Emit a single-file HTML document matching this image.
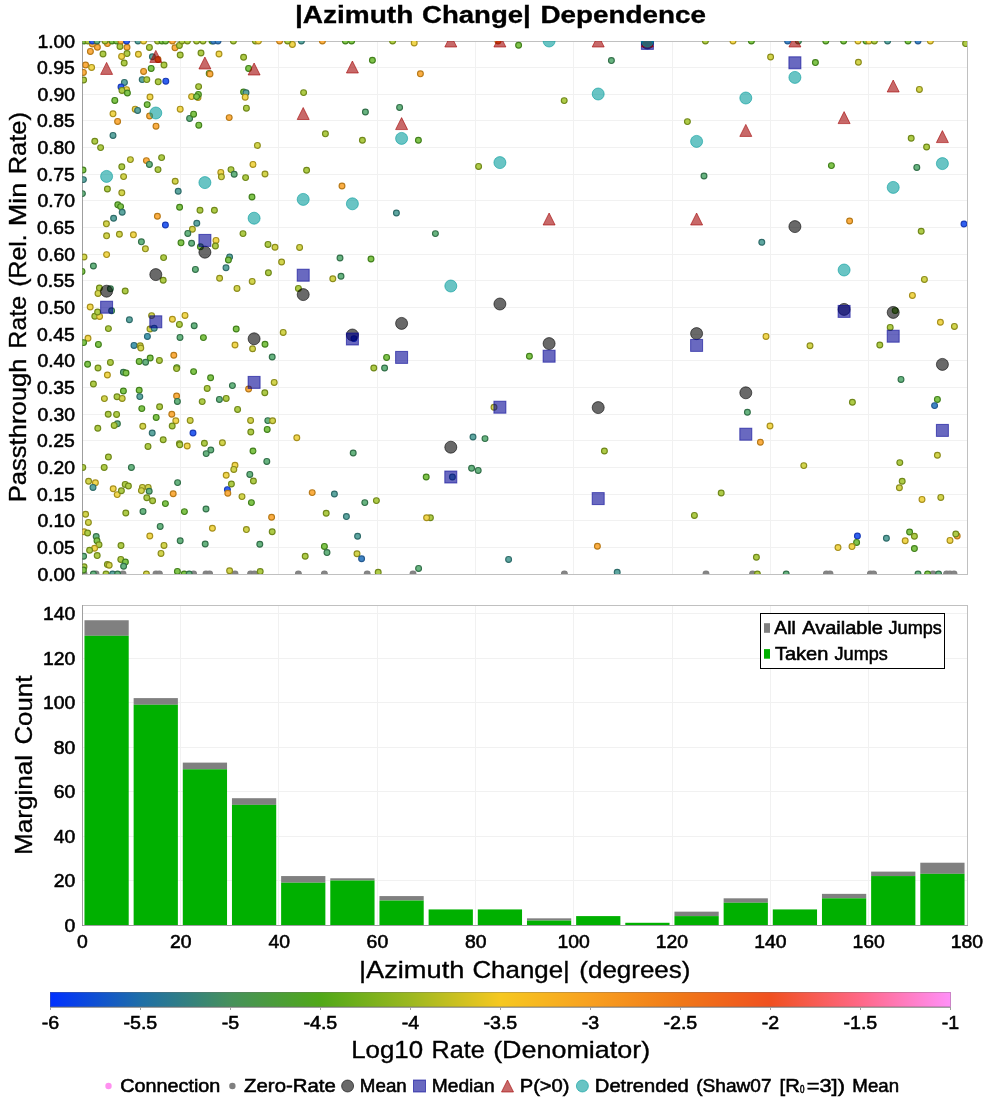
<!DOCTYPE html>
<html><head><meta charset="utf-8"><title>Azimuth Change Dependence</title>
<style>html,body{margin:0;padding:0;background:#fff;}svg{display:block;will-change:transform;}text{font-family:"Liberation Sans", sans-serif;fill:#000;stroke:#000;}</style></head><body>
<svg width="1000" height="1100" viewBox="0 0 1000 1100">
<rect x="0" y="0" width="1000" height="1100" fill="#ffffff"/>
<defs>
<clipPath id="c1"><rect x="82.00" y="41.00" width="885.00" height="533.00"/></clipPath>
<linearGradient id="cpt" x1="0" y1="0" x2="1" y2="0">
<stop offset="0.0000" stop-color="#0030ff"/>
<stop offset="0.1000" stop-color="#1e6ea8"/>
<stop offset="0.2000" stop-color="#46915c"/>
<stop offset="0.3000" stop-color="#50a818"/>
<stop offset="0.4000" stop-color="#9cb820"/>
<stop offset="0.5000" stop-color="#f6c820"/>
<stop offset="0.6000" stop-color="#f8a020"/>
<stop offset="0.7000" stop-color="#f07818"/>
<stop offset="0.8000" stop-color="#f05020"/>
<stop offset="0.9000" stop-color="#ff6888"/>
<stop offset="1.0000" stop-color="#ff90f8"/>
</linearGradient>
</defs>
<rect x="82.00" y="41.00" width="885.00" height="533.00" fill="#fff"/>
<line x1="82.00" y1="547.50" x2="967.00" y2="547.50" stroke="#f1f1f1" stroke-width="1"/>
<line x1="82.00" y1="520.50" x2="967.00" y2="520.50" stroke="#f1f1f1" stroke-width="1"/>
<line x1="82.00" y1="494.50" x2="967.00" y2="494.50" stroke="#f1f1f1" stroke-width="1"/>
<line x1="82.00" y1="467.50" x2="967.00" y2="467.50" stroke="#f1f1f1" stroke-width="1"/>
<line x1="82.00" y1="440.50" x2="967.00" y2="440.50" stroke="#f1f1f1" stroke-width="1"/>
<line x1="82.00" y1="414.50" x2="967.00" y2="414.50" stroke="#f1f1f1" stroke-width="1"/>
<line x1="82.00" y1="387.50" x2="967.00" y2="387.50" stroke="#f1f1f1" stroke-width="1"/>
<line x1="82.00" y1="360.50" x2="967.00" y2="360.50" stroke="#f1f1f1" stroke-width="1"/>
<line x1="82.00" y1="334.50" x2="967.00" y2="334.50" stroke="#f1f1f1" stroke-width="1"/>
<line x1="82.00" y1="307.50" x2="967.00" y2="307.50" stroke="#f1f1f1" stroke-width="1"/>
<line x1="82.00" y1="280.50" x2="967.00" y2="280.50" stroke="#f1f1f1" stroke-width="1"/>
<line x1="82.00" y1="254.50" x2="967.00" y2="254.50" stroke="#f1f1f1" stroke-width="1"/>
<line x1="82.00" y1="227.50" x2="967.00" y2="227.50" stroke="#f1f1f1" stroke-width="1"/>
<line x1="82.00" y1="200.50" x2="967.00" y2="200.50" stroke="#f1f1f1" stroke-width="1"/>
<line x1="82.00" y1="174.50" x2="967.00" y2="174.50" stroke="#f1f1f1" stroke-width="1"/>
<line x1="82.00" y1="147.50" x2="967.00" y2="147.50" stroke="#f1f1f1" stroke-width="1"/>
<line x1="82.00" y1="120.50" x2="967.00" y2="120.50" stroke="#f1f1f1" stroke-width="1"/>
<line x1="82.00" y1="94.50" x2="967.00" y2="94.50" stroke="#f1f1f1" stroke-width="1"/>
<line x1="82.00" y1="67.50" x2="967.00" y2="67.50" stroke="#f1f1f1" stroke-width="1"/>
<line x1="180.50" y1="41.00" x2="180.50" y2="574.00" stroke="#f1f1f1" stroke-width="1"/>
<line x1="278.50" y1="41.00" x2="278.50" y2="574.00" stroke="#f1f1f1" stroke-width="1"/>
<line x1="377.50" y1="41.00" x2="377.50" y2="574.00" stroke="#f1f1f1" stroke-width="1"/>
<line x1="475.50" y1="41.00" x2="475.50" y2="574.00" stroke="#f1f1f1" stroke-width="1"/>
<line x1="573.50" y1="41.00" x2="573.50" y2="574.00" stroke="#f1f1f1" stroke-width="1"/>
<line x1="672.50" y1="41.00" x2="672.50" y2="574.00" stroke="#f1f1f1" stroke-width="1"/>
<line x1="770.50" y1="41.00" x2="770.50" y2="574.00" stroke="#f1f1f1" stroke-width="1"/>
<line x1="868.50" y1="41.00" x2="868.50" y2="574.00" stroke="#f1f1f1" stroke-width="1"/>
<rect x="82.50" y="41.50" width="885.00" height="533.00" fill="none" stroke="#c0c0c0" stroke-width="1"/>
<g clip-path="url(#c1)">
<circle cx="84.0" cy="574.0" r="2.9" fill="#868686" stroke="#808080" stroke-width="1.15"/>
<circle cx="96.0" cy="574.0" r="2.9" fill="#868686" stroke="#808080" stroke-width="1.15"/>
<circle cx="123.0" cy="574.0" r="2.9" fill="#868686" stroke="#808080" stroke-width="1.15"/>
<circle cx="156.0" cy="574.0" r="2.9" fill="#868686" stroke="#808080" stroke-width="1.15"/>
<circle cx="159.4" cy="574.0" r="2.9" fill="#868686" stroke="#808080" stroke-width="1.15"/>
<circle cx="193.6" cy="574.0" r="2.9" fill="#868686" stroke="#808080" stroke-width="1.15"/>
<circle cx="206.0" cy="574.0" r="2.9" fill="#868686" stroke="#808080" stroke-width="1.15"/>
<circle cx="209.6" cy="574.0" r="2.9" fill="#868686" stroke="#808080" stroke-width="1.15"/>
<circle cx="235.0" cy="574.0" r="2.9" fill="#868686" stroke="#808080" stroke-width="1.15"/>
<circle cx="250.6" cy="574.0" r="2.9" fill="#868686" stroke="#808080" stroke-width="1.15"/>
<circle cx="254.4" cy="574.0" r="2.9" fill="#868686" stroke="#808080" stroke-width="1.15"/>
<circle cx="298.4" cy="574.0" r="2.9" fill="#868686" stroke="#808080" stroke-width="1.15"/>
<circle cx="324.4" cy="574.0" r="2.9" fill="#868686" stroke="#808080" stroke-width="1.15"/>
<circle cx="367.2" cy="574.0" r="2.9" fill="#868686" stroke="#808080" stroke-width="1.15"/>
<circle cx="413.0" cy="574.0" r="2.9" fill="#868686" stroke="#808080" stroke-width="1.15"/>
<circle cx="564.4" cy="574.0" r="2.9" fill="#868686" stroke="#808080" stroke-width="1.15"/>
<circle cx="706.0" cy="574.0" r="2.9" fill="#868686" stroke="#808080" stroke-width="1.15"/>
<circle cx="752.6" cy="574.0" r="2.9" fill="#868686" stroke="#808080" stroke-width="1.15"/>
<circle cx="826.4" cy="574.0" r="2.9" fill="#868686" stroke="#808080" stroke-width="1.15"/>
<circle cx="830.0" cy="574.0" r="2.9" fill="#868686" stroke="#808080" stroke-width="1.15"/>
<circle cx="870.4" cy="574.0" r="2.9" fill="#868686" stroke="#808080" stroke-width="1.15"/>
<circle cx="873.6" cy="574.0" r="2.9" fill="#868686" stroke="#808080" stroke-width="1.15"/>
<circle cx="933.0" cy="574.0" r="2.9" fill="#868686" stroke="#808080" stroke-width="1.15"/>
<circle cx="946.6" cy="574.0" r="2.9" fill="#868686" stroke="#808080" stroke-width="1.15"/>
<circle cx="950.0" cy="574.0" r="2.9" fill="#868686" stroke="#808080" stroke-width="1.15"/>
<circle cx="954.0" cy="574.0" r="2.9" fill="#868686" stroke="#808080" stroke-width="1.15"/>
<circle cx="90.4" cy="51.4" r="2.9" fill="#fbae44" stroke="#b87a18" stroke-width="1.15"/>
<circle cx="97.4" cy="47.2" r="2.9" fill="#fbae44" stroke="#b87a18" stroke-width="1.15"/>
<circle cx="92.4" cy="44.0" r="2.9" fill="#fbae44" stroke="#b87a18" stroke-width="1.15"/>
<circle cx="107.4" cy="43.6" r="2.9" fill="#fbae44" stroke="#b87a18" stroke-width="1.15"/>
<circle cx="103.0" cy="54.0" r="2.9" fill="#aecb48" stroke="#70881a" stroke-width="1.15"/>
<circle cx="120.0" cy="46.4" r="2.9" fill="#aecb48" stroke="#70881a" stroke-width="1.15"/>
<circle cx="127.0" cy="47.2" r="2.9" fill="#fbae44" stroke="#b87a18" stroke-width="1.15"/>
<circle cx="127.0" cy="53.6" r="2.9" fill="#aecb48" stroke="#70881a" stroke-width="1.15"/>
<circle cx="121.6" cy="56.4" r="2.9" fill="#f0d650" stroke="#a8901c" stroke-width="1.15"/>
<circle cx="138.4" cy="54.2" r="2.9" fill="#f0d650" stroke="#a8901c" stroke-width="1.15"/>
<circle cx="149.4" cy="47.4" r="2.9" fill="#aecb48" stroke="#70881a" stroke-width="1.15"/>
<circle cx="152.4" cy="56.8" r="2.9" fill="#5ea6a0" stroke="#2f6c6a" stroke-width="1.15"/>
<circle cx="158.0" cy="59.6" r="2.9" fill="#f58424" stroke="#b05a10" stroke-width="1.15"/>
<circle cx="164.0" cy="65.0" r="2.9" fill="#aecb48" stroke="#70881a" stroke-width="1.15"/>
<circle cx="175.0" cy="47.8" r="2.9" fill="#fbae44" stroke="#b87a18" stroke-width="1.15"/>
<circle cx="179.4" cy="45.4" r="2.9" fill="#aecb48" stroke="#70881a" stroke-width="1.15"/>
<circle cx="180.2" cy="55.0" r="2.9" fill="#aecb48" stroke="#70881a" stroke-width="1.15"/>
<circle cx="201.0" cy="53.0" r="2.9" fill="#aecb48" stroke="#70881a" stroke-width="1.15"/>
<circle cx="219.0" cy="54.0" r="2.9" fill="#f0d650" stroke="#a8901c" stroke-width="1.15"/>
<circle cx="243.6" cy="57.2" r="2.9" fill="#aecb48" stroke="#70881a" stroke-width="1.15"/>
<circle cx="85.6" cy="65.0" r="2.9" fill="#fbae44" stroke="#b87a18" stroke-width="1.15"/>
<circle cx="91.6" cy="67.4" r="2.9" fill="#f0d650" stroke="#a8901c" stroke-width="1.15"/>
<circle cx="83.4" cy="72.4" r="2.9" fill="#fbae44" stroke="#b87a18" stroke-width="1.15"/>
<circle cx="83.6" cy="80.0" r="2.9" fill="#aecb48" stroke="#70881a" stroke-width="1.15"/>
<circle cx="124.2" cy="63.0" r="2.9" fill="#aecb48" stroke="#70881a" stroke-width="1.15"/>
<circle cx="151.2" cy="68.4" r="2.9" fill="#80c44c" stroke="#42801c" stroke-width="1.15"/>
<circle cx="143.6" cy="71.4" r="2.9" fill="#fbae44" stroke="#b87a18" stroke-width="1.15"/>
<circle cx="142.2" cy="79.6" r="2.9" fill="#5ea6a0" stroke="#2f6c6a" stroke-width="1.15"/>
<circle cx="146.8" cy="79.6" r="2.9" fill="#aecb48" stroke="#70881a" stroke-width="1.15"/>
<circle cx="158.2" cy="81.8" r="2.9" fill="#aecb48" stroke="#70881a" stroke-width="1.15"/>
<circle cx="165.8" cy="81.2" r="2.9" fill="#3060f0" stroke="#1a3cb8" stroke-width="1.15"/>
<circle cx="124.4" cy="82.4" r="2.9" fill="#5ea6a0" stroke="#2f6c6a" stroke-width="1.15"/>
<circle cx="121.0" cy="87.0" r="2.9" fill="#3060f0" stroke="#1a3cb8" stroke-width="1.15"/>
<circle cx="126.6" cy="89.6" r="2.9" fill="#f0d650" stroke="#a8901c" stroke-width="1.15"/>
<circle cx="122.0" cy="90.4" r="2.9" fill="#aecb48" stroke="#70881a" stroke-width="1.15"/>
<circle cx="127.4" cy="93.0" r="2.9" fill="#80c44c" stroke="#42801c" stroke-width="1.15"/>
<circle cx="114.8" cy="100.4" r="2.9" fill="#80c44c" stroke="#42801c" stroke-width="1.15"/>
<circle cx="150.0" cy="97.0" r="2.9" fill="#f0d650" stroke="#a8901c" stroke-width="1.15"/>
<circle cx="147.2" cy="104.6" r="2.9" fill="#80c44c" stroke="#42801c" stroke-width="1.15"/>
<circle cx="135.2" cy="109.2" r="2.9" fill="#f0d650" stroke="#a8901c" stroke-width="1.15"/>
<circle cx="137.6" cy="110.4" r="2.9" fill="#5ea6a0" stroke="#2f6c6a" stroke-width="1.15"/>
<circle cx="149.6" cy="116.0" r="2.9" fill="#fbae44" stroke="#b87a18" stroke-width="1.15"/>
<circle cx="113.0" cy="113.8" r="2.9" fill="#f0d650" stroke="#a8901c" stroke-width="1.15"/>
<circle cx="117.6" cy="121.4" r="2.9" fill="#fbae44" stroke="#b87a18" stroke-width="1.15"/>
<circle cx="156.0" cy="126.2" r="2.9" fill="#fbae44" stroke="#b87a18" stroke-width="1.15"/>
<circle cx="113.0" cy="135.4" r="2.9" fill="#5ea6a0" stroke="#2f6c6a" stroke-width="1.15"/>
<circle cx="94.8" cy="141.2" r="2.9" fill="#aecb48" stroke="#70881a" stroke-width="1.15"/>
<circle cx="100.6" cy="147.6" r="2.9" fill="#aecb48" stroke="#70881a" stroke-width="1.15"/>
<circle cx="180.2" cy="109.2" r="2.9" fill="#f0d650" stroke="#a8901c" stroke-width="1.15"/>
<circle cx="189.6" cy="118.4" r="2.9" fill="#68b480" stroke="#33704a" stroke-width="1.15"/>
<circle cx="193.6" cy="114.2" r="2.9" fill="#80c44c" stroke="#42801c" stroke-width="1.15"/>
<circle cx="198.8" cy="125.2" r="2.9" fill="#80c44c" stroke="#42801c" stroke-width="1.15"/>
<circle cx="191.6" cy="96.6" r="2.9" fill="#f0d650" stroke="#a8901c" stroke-width="1.15"/>
<circle cx="198.0" cy="97.4" r="2.9" fill="#f0d650" stroke="#a8901c" stroke-width="1.15"/>
<circle cx="198.4" cy="94.4" r="2.9" fill="#80c44c" stroke="#42801c" stroke-width="1.15"/>
<circle cx="196.6" cy="96.6" r="2.9" fill="#80c44c" stroke="#42801c" stroke-width="1.15"/>
<circle cx="198.6" cy="86.6" r="2.9" fill="#aecb48" stroke="#70881a" stroke-width="1.15"/>
<circle cx="209.2" cy="73.4" r="2.9" fill="#80c44c" stroke="#42801c" stroke-width="1.15"/>
<circle cx="210.0" cy="74.0" r="2.9" fill="#fbae44" stroke="#b87a18" stroke-width="1.15"/>
<circle cx="248.6" cy="68.4" r="2.9" fill="#80c44c" stroke="#42801c" stroke-width="1.15"/>
<circle cx="243.6" cy="92.0" r="2.9" fill="#80c44c" stroke="#42801c" stroke-width="1.15"/>
<circle cx="246.0" cy="92.8" r="2.9" fill="#5ea6a0" stroke="#2f6c6a" stroke-width="1.15"/>
<circle cx="245.2" cy="97.2" r="2.9" fill="#f0d650" stroke="#a8901c" stroke-width="1.15"/>
<circle cx="246.4" cy="108.2" r="2.9" fill="#aecb48" stroke="#70881a" stroke-width="1.15"/>
<circle cx="229.2" cy="117.6" r="2.9" fill="#fbae44" stroke="#b87a18" stroke-width="1.15"/>
<circle cx="257.4" cy="145.4" r="2.9" fill="#d2d44e" stroke="#8c8c1c" stroke-width="1.15"/>
<circle cx="292.4" cy="44.4" r="2.9" fill="#f0d650" stroke="#a8901c" stroke-width="1.15"/>
<circle cx="414.2" cy="43.0" r="2.9" fill="#f0d650" stroke="#a8901c" stroke-width="1.15"/>
<circle cx="372.4" cy="60.2" r="2.9" fill="#80c44c" stroke="#42801c" stroke-width="1.15"/>
<circle cx="420.4" cy="73.8" r="2.9" fill="#fbae44" stroke="#b87a18" stroke-width="1.15"/>
<circle cx="303.6" cy="92.6" r="2.9" fill="#aecb48" stroke="#70881a" stroke-width="1.15"/>
<circle cx="365.4" cy="112.0" r="2.9" fill="#68b480" stroke="#33704a" stroke-width="1.15"/>
<circle cx="399.6" cy="107.4" r="2.9" fill="#68b480" stroke="#33704a" stroke-width="1.15"/>
<circle cx="325.4" cy="133.8" r="2.9" fill="#aecb48" stroke="#70881a" stroke-width="1.15"/>
<circle cx="362.4" cy="140.2" r="2.9" fill="#aecb48" stroke="#70881a" stroke-width="1.15"/>
<circle cx="418.4" cy="140.2" r="2.9" fill="#80c44c" stroke="#42801c" stroke-width="1.15"/>
<circle cx="518.6" cy="45.2" r="2.9" fill="#80c44c" stroke="#42801c" stroke-width="1.15"/>
<circle cx="611.4" cy="60.6" r="2.9" fill="#68b480" stroke="#33704a" stroke-width="1.15"/>
<circle cx="564.2" cy="100.6" r="2.9" fill="#aecb48" stroke="#70881a" stroke-width="1.15"/>
<circle cx="770.6" cy="57.0" r="2.9" fill="#d2d44e" stroke="#8c8c1c" stroke-width="1.15"/>
<circle cx="815.4" cy="62.6" r="2.9" fill="#80c44c" stroke="#42801c" stroke-width="1.15"/>
<circle cx="858.4" cy="62.2" r="2.9" fill="#d2d44e" stroke="#8c8c1c" stroke-width="1.15"/>
<circle cx="687.4" cy="121.6" r="2.9" fill="#aecb48" stroke="#70881a" stroke-width="1.15"/>
<circle cx="965.6" cy="43.6" r="2.9" fill="#aecb48" stroke="#70881a" stroke-width="1.15"/>
<circle cx="919.4" cy="89.4" r="2.9" fill="#d2d44e" stroke="#8c8c1c" stroke-width="1.15"/>
<circle cx="911.2" cy="138.2" r="2.9" fill="#aecb48" stroke="#70881a" stroke-width="1.15"/>
<circle cx="926.6" cy="147.0" r="2.9" fill="#aecb48" stroke="#70881a" stroke-width="1.15"/>
<circle cx="83.0" cy="170.0" r="2.9" fill="#80c44c" stroke="#42801c" stroke-width="1.15"/>
<circle cx="83.4" cy="179.6" r="2.9" fill="#5ea6a0" stroke="#2f6c6a" stroke-width="1.15"/>
<circle cx="82.4" cy="193.6" r="2.9" fill="#68b480" stroke="#33704a" stroke-width="1.15"/>
<circle cx="130.4" cy="159.6" r="2.9" fill="#d2d44e" stroke="#8c8c1c" stroke-width="1.15"/>
<circle cx="146.4" cy="160.6" r="2.9" fill="#fbae44" stroke="#b87a18" stroke-width="1.15"/>
<circle cx="149.4" cy="164.4" r="2.9" fill="#68b480" stroke="#33704a" stroke-width="1.15"/>
<circle cx="161.6" cy="157.6" r="2.9" fill="#aecb48" stroke="#70881a" stroke-width="1.15"/>
<circle cx="121.8" cy="166.8" r="2.9" fill="#aecb48" stroke="#70881a" stroke-width="1.15"/>
<circle cx="158.0" cy="169.6" r="2.9" fill="#aecb48" stroke="#70881a" stroke-width="1.15"/>
<circle cx="123.6" cy="176.6" r="2.9" fill="#d2d44e" stroke="#8c8c1c" stroke-width="1.15"/>
<circle cx="107.4" cy="189.0" r="2.9" fill="#aecb48" stroke="#70881a" stroke-width="1.15"/>
<circle cx="121.8" cy="192.8" r="2.9" fill="#d2d44e" stroke="#8c8c1c" stroke-width="1.15"/>
<circle cx="175.2" cy="181.2" r="2.9" fill="#d2d44e" stroke="#8c8c1c" stroke-width="1.15"/>
<circle cx="178.2" cy="191.2" r="2.9" fill="#5ea6a0" stroke="#2f6c6a" stroke-width="1.15"/>
<circle cx="117.8" cy="204.8" r="2.9" fill="#80c44c" stroke="#42801c" stroke-width="1.15"/>
<circle cx="120.6" cy="206.6" r="2.9" fill="#80c44c" stroke="#42801c" stroke-width="1.15"/>
<circle cx="122.2" cy="212.2" r="2.9" fill="#5ea6a0" stroke="#2f6c6a" stroke-width="1.15"/>
<circle cx="113.6" cy="218.2" r="2.9" fill="#5ea6a0" stroke="#2f6c6a" stroke-width="1.15"/>
<circle cx="106.4" cy="223.8" r="2.9" fill="#d2d44e" stroke="#8c8c1c" stroke-width="1.15"/>
<circle cx="157.4" cy="216.2" r="2.9" fill="#fbae44" stroke="#b87a18" stroke-width="1.15"/>
<circle cx="165.4" cy="225.0" r="2.9" fill="#3060f0" stroke="#1a3cb8" stroke-width="1.15"/>
<circle cx="179.6" cy="207.2" r="2.9" fill="#80c44c" stroke="#42801c" stroke-width="1.15"/>
<circle cx="200.0" cy="210.2" r="2.9" fill="#aecb48" stroke="#70881a" stroke-width="1.15"/>
<circle cx="214.4" cy="210.2" r="2.9" fill="#aecb48" stroke="#70881a" stroke-width="1.15"/>
<circle cx="196.8" cy="223.2" r="2.9" fill="#5ea6a0" stroke="#2f6c6a" stroke-width="1.15"/>
<circle cx="192.4" cy="229.2" r="2.9" fill="#d2d44e" stroke="#8c8c1c" stroke-width="1.15"/>
<circle cx="187.8" cy="233.4" r="2.9" fill="#68b480" stroke="#33704a" stroke-width="1.15"/>
<circle cx="106.6" cy="235.8" r="2.9" fill="#d2d44e" stroke="#8c8c1c" stroke-width="1.15"/>
<circle cx="119.4" cy="234.2" r="2.9" fill="#d2d44e" stroke="#8c8c1c" stroke-width="1.15"/>
<circle cx="133.4" cy="234.8" r="2.9" fill="#f0d650" stroke="#a8901c" stroke-width="1.15"/>
<circle cx="141.4" cy="241.8" r="2.9" fill="#68b480" stroke="#33704a" stroke-width="1.15"/>
<circle cx="145.4" cy="248.8" r="2.9" fill="#d2d44e" stroke="#8c8c1c" stroke-width="1.15"/>
<circle cx="181.0" cy="242.8" r="2.9" fill="#80c44c" stroke="#42801c" stroke-width="1.15"/>
<circle cx="191.6" cy="243.2" r="2.9" fill="#68b480" stroke="#33704a" stroke-width="1.15"/>
<circle cx="200.4" cy="246.8" r="2.9" fill="#80c44c" stroke="#42801c" stroke-width="1.15"/>
<circle cx="216.0" cy="240.4" r="2.9" fill="#f0d650" stroke="#a8901c" stroke-width="1.15"/>
<circle cx="215.4" cy="246.0" r="2.9" fill="#aecb48" stroke="#70881a" stroke-width="1.15"/>
<circle cx="243.0" cy="233.6" r="2.9" fill="#aecb48" stroke="#70881a" stroke-width="1.15"/>
<circle cx="268.0" cy="244.4" r="2.9" fill="#aecb48" stroke="#70881a" stroke-width="1.15"/>
<circle cx="275.0" cy="247.2" r="2.9" fill="#d2d44e" stroke="#8c8c1c" stroke-width="1.15"/>
<circle cx="84.0" cy="257.0" r="2.9" fill="#d2d44e" stroke="#8c8c1c" stroke-width="1.15"/>
<circle cx="106.6" cy="254.6" r="2.9" fill="#f0d650" stroke="#a8901c" stroke-width="1.15"/>
<circle cx="163.6" cy="257.6" r="2.9" fill="#aecb48" stroke="#70881a" stroke-width="1.15"/>
<circle cx="229.6" cy="257.0" r="2.9" fill="#5ea6a0" stroke="#2f6c6a" stroke-width="1.15"/>
<circle cx="220.8" cy="172.4" r="2.9" fill="#f0d650" stroke="#a8901c" stroke-width="1.15"/>
<circle cx="221.4" cy="176.8" r="2.9" fill="#d2d44e" stroke="#8c8c1c" stroke-width="1.15"/>
<circle cx="231.0" cy="169.6" r="2.9" fill="#aecb48" stroke="#70881a" stroke-width="1.15"/>
<circle cx="234.2" cy="174.2" r="2.9" fill="#68b480" stroke="#33704a" stroke-width="1.15"/>
<circle cx="245.6" cy="177.6" r="2.9" fill="#aecb48" stroke="#70881a" stroke-width="1.15"/>
<circle cx="253.0" cy="164.4" r="2.9" fill="#f0d650" stroke="#a8901c" stroke-width="1.15"/>
<circle cx="265.0" cy="174.0" r="2.9" fill="#d2d44e" stroke="#8c8c1c" stroke-width="1.15"/>
<circle cx="252.0" cy="197.0" r="2.9" fill="#80c44c" stroke="#42801c" stroke-width="1.15"/>
<circle cx="306.6" cy="170.2" r="2.9" fill="#aecb48" stroke="#70881a" stroke-width="1.15"/>
<circle cx="342.0" cy="186.0" r="2.9" fill="#fbae44" stroke="#b87a18" stroke-width="1.15"/>
<circle cx="396.4" cy="213.0" r="2.9" fill="#5ea6a0" stroke="#2f6c6a" stroke-width="1.15"/>
<circle cx="435.4" cy="233.6" r="2.9" fill="#68b480" stroke="#33704a" stroke-width="1.15"/>
<circle cx="299.6" cy="247.4" r="2.9" fill="#d2d44e" stroke="#8c8c1c" stroke-width="1.15"/>
<circle cx="478.6" cy="166.4" r="2.9" fill="#aecb48" stroke="#70881a" stroke-width="1.15"/>
<circle cx="704.0" cy="176.0" r="2.9" fill="#68b480" stroke="#33704a" stroke-width="1.15"/>
<circle cx="831.4" cy="165.6" r="2.9" fill="#80c44c" stroke="#42801c" stroke-width="1.15"/>
<circle cx="849.6" cy="221.0" r="2.9" fill="#fbae44" stroke="#b87a18" stroke-width="1.15"/>
<circle cx="761.8" cy="242.2" r="2.9" fill="#5ea6a0" stroke="#2f6c6a" stroke-width="1.15"/>
<circle cx="916.8" cy="167.4" r="2.9" fill="#68b480" stroke="#33704a" stroke-width="1.15"/>
<circle cx="921.2" cy="231.2" r="2.9" fill="#aecb48" stroke="#70881a" stroke-width="1.15"/>
<circle cx="964.0" cy="224.0" r="2.9" fill="#3060f0" stroke="#1a3cb8" stroke-width="1.15"/>
<circle cx="93.4" cy="266.0" r="2.9" fill="#68b480" stroke="#33704a" stroke-width="1.15"/>
<circle cx="82.0" cy="271.4" r="2.9" fill="#80c44c" stroke="#42801c" stroke-width="1.15"/>
<circle cx="163.2" cy="280.2" r="2.9" fill="#aecb48" stroke="#70881a" stroke-width="1.15"/>
<circle cx="195.4" cy="269.4" r="2.9" fill="#68b480" stroke="#33704a" stroke-width="1.15"/>
<circle cx="226.0" cy="267.8" r="2.9" fill="#5ea6a0" stroke="#2f6c6a" stroke-width="1.15"/>
<circle cx="228.4" cy="260.0" r="2.9" fill="#80c44c" stroke="#42801c" stroke-width="1.15"/>
<circle cx="219.6" cy="278.2" r="2.9" fill="#d2d44e" stroke="#8c8c1c" stroke-width="1.15"/>
<circle cx="237.0" cy="288.4" r="2.9" fill="#d2d44e" stroke="#8c8c1c" stroke-width="1.15"/>
<circle cx="252.2" cy="281.4" r="2.9" fill="#d2d44e" stroke="#8c8c1c" stroke-width="1.15"/>
<circle cx="268.4" cy="272.8" r="2.9" fill="#aecb48" stroke="#70881a" stroke-width="1.15"/>
<circle cx="99.4" cy="288.0" r="2.9" fill="#aecb48" stroke="#70881a" stroke-width="1.15"/>
<circle cx="98.0" cy="293.4" r="2.9" fill="#d2d44e" stroke="#8c8c1c" stroke-width="1.15"/>
<circle cx="110.4" cy="288.8" r="2.9" fill="#68b480" stroke="#33704a" stroke-width="1.15"/>
<circle cx="125.2" cy="291.0" r="2.9" fill="#aecb48" stroke="#70881a" stroke-width="1.15"/>
<circle cx="90.2" cy="307.0" r="2.9" fill="#f0d650" stroke="#a8901c" stroke-width="1.15"/>
<circle cx="94.8" cy="316.2" r="2.9" fill="#aecb48" stroke="#70881a" stroke-width="1.15"/>
<circle cx="99.6" cy="316.4" r="2.9" fill="#f0d650" stroke="#a8901c" stroke-width="1.15"/>
<circle cx="97.6" cy="312.0" r="2.9" fill="#aecb48" stroke="#70881a" stroke-width="1.15"/>
<circle cx="111.6" cy="310.8" r="2.9" fill="#68b480" stroke="#33704a" stroke-width="1.15"/>
<circle cx="108.4" cy="328.6" r="2.9" fill="#aecb48" stroke="#70881a" stroke-width="1.15"/>
<circle cx="129.4" cy="319.8" r="2.9" fill="#5ea6a0" stroke="#2f6c6a" stroke-width="1.15"/>
<circle cx="151.6" cy="315.6" r="2.9" fill="#d2d44e" stroke="#8c8c1c" stroke-width="1.15"/>
<circle cx="150.0" cy="329.0" r="2.9" fill="#d2d44e" stroke="#8c8c1c" stroke-width="1.15"/>
<circle cx="154.2" cy="328.2" r="2.9" fill="#5ea6a0" stroke="#2f6c6a" stroke-width="1.15"/>
<circle cx="172.4" cy="319.2" r="2.9" fill="#f0d650" stroke="#a8901c" stroke-width="1.15"/>
<circle cx="185.0" cy="315.4" r="2.9" fill="#f0d650" stroke="#a8901c" stroke-width="1.15"/>
<circle cx="179.4" cy="324.4" r="2.9" fill="#aecb48" stroke="#70881a" stroke-width="1.15"/>
<circle cx="194.2" cy="325.8" r="2.9" fill="#68b480" stroke="#33704a" stroke-width="1.15"/>
<circle cx="236.2" cy="329.0" r="2.9" fill="#80c44c" stroke="#42801c" stroke-width="1.15"/>
<circle cx="147.4" cy="336.4" r="2.9" fill="#4a9aae" stroke="#2a6878" stroke-width="1.15"/>
<circle cx="180.0" cy="337.4" r="2.9" fill="#68b480" stroke="#33704a" stroke-width="1.15"/>
<circle cx="203.4" cy="337.6" r="2.9" fill="#80c44c" stroke="#42801c" stroke-width="1.15"/>
<circle cx="88.0" cy="338.2" r="2.9" fill="#f0d650" stroke="#a8901c" stroke-width="1.15"/>
<circle cx="83.6" cy="342.6" r="2.9" fill="#80c44c" stroke="#42801c" stroke-width="1.15"/>
<circle cx="98.4" cy="344.4" r="2.9" fill="#80c44c" stroke="#42801c" stroke-width="1.15"/>
<circle cx="134.0" cy="345.4" r="2.9" fill="#4a9aae" stroke="#2a6878" stroke-width="1.15"/>
<circle cx="140.2" cy="345.8" r="2.9" fill="#d2d44e" stroke="#8c8c1c" stroke-width="1.15"/>
<circle cx="140.8" cy="348.0" r="2.9" fill="#d2d44e" stroke="#8c8c1c" stroke-width="1.15"/>
<circle cx="235.0" cy="345.0" r="2.9" fill="#f0d650" stroke="#a8901c" stroke-width="1.15"/>
<circle cx="252.6" cy="348.8" r="2.9" fill="#d2d44e" stroke="#8c8c1c" stroke-width="1.15"/>
<circle cx="265.0" cy="344.2" r="2.9" fill="#80c44c" stroke="#42801c" stroke-width="1.15"/>
<circle cx="272.2" cy="357.0" r="2.9" fill="#68b480" stroke="#33704a" stroke-width="1.15"/>
<circle cx="173.8" cy="355.2" r="2.9" fill="#fbae44" stroke="#b87a18" stroke-width="1.15"/>
<circle cx="150.2" cy="358.0" r="2.9" fill="#80c44c" stroke="#42801c" stroke-width="1.15"/>
<circle cx="139.2" cy="361.4" r="2.9" fill="#80c44c" stroke="#42801c" stroke-width="1.15"/>
<circle cx="145.6" cy="362.2" r="2.9" fill="#68b480" stroke="#33704a" stroke-width="1.15"/>
<circle cx="159.4" cy="360.4" r="2.9" fill="#aecb48" stroke="#70881a" stroke-width="1.15"/>
<circle cx="110.4" cy="362.4" r="2.9" fill="#aecb48" stroke="#70881a" stroke-width="1.15"/>
<circle cx="87.6" cy="364.2" r="2.9" fill="#80c44c" stroke="#42801c" stroke-width="1.15"/>
<circle cx="98.0" cy="368.0" r="2.9" fill="#aecb48" stroke="#70881a" stroke-width="1.15"/>
<circle cx="176.8" cy="367.6" r="2.9" fill="#80c44c" stroke="#42801c" stroke-width="1.15"/>
<circle cx="281.6" cy="262.0" r="2.9" fill="#d2d44e" stroke="#8c8c1c" stroke-width="1.15"/>
<circle cx="340.0" cy="258.0" r="2.9" fill="#68b480" stroke="#33704a" stroke-width="1.15"/>
<circle cx="371.0" cy="259.0" r="2.9" fill="#80c44c" stroke="#42801c" stroke-width="1.15"/>
<circle cx="341.0" cy="276.2" r="2.9" fill="#68b480" stroke="#33704a" stroke-width="1.15"/>
<circle cx="332.8" cy="278.8" r="2.9" fill="#d2d44e" stroke="#8c8c1c" stroke-width="1.15"/>
<circle cx="298.4" cy="288.4" r="2.9" fill="#aecb48" stroke="#70881a" stroke-width="1.15"/>
<circle cx="283.2" cy="332.4" r="2.9" fill="#d2d44e" stroke="#8c8c1c" stroke-width="1.15"/>
<circle cx="354.0" cy="338.6" r="2.9" fill="#3060f0" stroke="#1a3cb8" stroke-width="1.15"/>
<circle cx="386.6" cy="357.4" r="2.9" fill="#80c44c" stroke="#42801c" stroke-width="1.15"/>
<circle cx="373.8" cy="368.0" r="2.9" fill="#aecb48" stroke="#70881a" stroke-width="1.15"/>
<circle cx="384.6" cy="368.0" r="2.9" fill="#68b480" stroke="#33704a" stroke-width="1.15"/>
<circle cx="529.4" cy="356.2" r="2.9" fill="#80c44c" stroke="#42801c" stroke-width="1.15"/>
<circle cx="766.0" cy="336.4" r="2.9" fill="#f0d650" stroke="#a8901c" stroke-width="1.15"/>
<circle cx="810.0" cy="345.8" r="2.9" fill="#d2d44e" stroke="#8c8c1c" stroke-width="1.15"/>
<circle cx="879.8" cy="345.0" r="2.9" fill="#aecb48" stroke="#70881a" stroke-width="1.15"/>
<circle cx="924.4" cy="279.4" r="2.9" fill="#d2d44e" stroke="#8c8c1c" stroke-width="1.15"/>
<circle cx="912.4" cy="295.4" r="2.9" fill="#f0d650" stroke="#a8901c" stroke-width="1.15"/>
<circle cx="895.2" cy="310.6" r="2.9" fill="#80c44c" stroke="#42801c" stroke-width="1.15"/>
<circle cx="890.2" cy="327.4" r="2.9" fill="#aecb48" stroke="#70881a" stroke-width="1.15"/>
<circle cx="940.4" cy="322.2" r="2.9" fill="#f0d650" stroke="#a8901c" stroke-width="1.15"/>
<circle cx="954.4" cy="326.4" r="2.9" fill="#d2d44e" stroke="#8c8c1c" stroke-width="1.15"/>
<circle cx="107.4" cy="375.0" r="2.9" fill="#f0d650" stroke="#a8901c" stroke-width="1.15"/>
<circle cx="123.4" cy="372.2" r="2.9" fill="#68b480" stroke="#33704a" stroke-width="1.15"/>
<circle cx="126.0" cy="373.0" r="2.9" fill="#80c44c" stroke="#42801c" stroke-width="1.15"/>
<circle cx="176.6" cy="368.6" r="2.9" fill="#aecb48" stroke="#70881a" stroke-width="1.15"/>
<circle cx="193.6" cy="371.6" r="2.9" fill="#80c44c" stroke="#42801c" stroke-width="1.15"/>
<circle cx="210.6" cy="377.8" r="2.9" fill="#80c44c" stroke="#42801c" stroke-width="1.15"/>
<circle cx="93.4" cy="384.0" r="2.9" fill="#aecb48" stroke="#70881a" stroke-width="1.15"/>
<circle cx="123.4" cy="391.0" r="2.9" fill="#80c44c" stroke="#42801c" stroke-width="1.15"/>
<circle cx="139.2" cy="390.2" r="2.9" fill="#80c44c" stroke="#42801c" stroke-width="1.15"/>
<circle cx="139.8" cy="396.6" r="2.9" fill="#5ea6a0" stroke="#2f6c6a" stroke-width="1.15"/>
<circle cx="104.4" cy="398.6" r="2.9" fill="#d2d44e" stroke="#8c8c1c" stroke-width="1.15"/>
<circle cx="117.0" cy="396.8" r="2.9" fill="#aecb48" stroke="#70881a" stroke-width="1.15"/>
<circle cx="122.2" cy="398.4" r="2.9" fill="#d2d44e" stroke="#8c8c1c" stroke-width="1.15"/>
<circle cx="176.6" cy="396.0" r="2.9" fill="#fbae44" stroke="#b87a18" stroke-width="1.15"/>
<circle cx="177.4" cy="401.4" r="2.9" fill="#68b480" stroke="#33704a" stroke-width="1.15"/>
<circle cx="207.2" cy="388.4" r="2.9" fill="#aecb48" stroke="#70881a" stroke-width="1.15"/>
<circle cx="232.4" cy="385.6" r="2.9" fill="#68b480" stroke="#33704a" stroke-width="1.15"/>
<circle cx="248.6" cy="389.0" r="2.9" fill="#fbae44" stroke="#b87a18" stroke-width="1.15"/>
<circle cx="264.8" cy="392.8" r="2.9" fill="#aecb48" stroke="#70881a" stroke-width="1.15"/>
<circle cx="274.2" cy="382.4" r="2.9" fill="#d2d44e" stroke="#8c8c1c" stroke-width="1.15"/>
<circle cx="219.4" cy="399.4" r="2.9" fill="#68b480" stroke="#33704a" stroke-width="1.15"/>
<circle cx="226.2" cy="398.4" r="2.9" fill="#aecb48" stroke="#70881a" stroke-width="1.15"/>
<circle cx="202.2" cy="401.6" r="2.9" fill="#aecb48" stroke="#70881a" stroke-width="1.15"/>
<circle cx="237.6" cy="409.4" r="2.9" fill="#aecb48" stroke="#70881a" stroke-width="1.15"/>
<circle cx="141.8" cy="408.6" r="2.9" fill="#80c44c" stroke="#42801c" stroke-width="1.15"/>
<circle cx="159.6" cy="406.8" r="2.9" fill="#aecb48" stroke="#70881a" stroke-width="1.15"/>
<circle cx="108.2" cy="414.2" r="2.9" fill="#aecb48" stroke="#70881a" stroke-width="1.15"/>
<circle cx="116.6" cy="414.4" r="2.9" fill="#aecb48" stroke="#70881a" stroke-width="1.15"/>
<circle cx="156.2" cy="417.4" r="2.9" fill="#80c44c" stroke="#42801c" stroke-width="1.15"/>
<circle cx="171.8" cy="414.2" r="2.9" fill="#fbae44" stroke="#b87a18" stroke-width="1.15"/>
<circle cx="175.8" cy="420.8" r="2.9" fill="#f0d650" stroke="#a8901c" stroke-width="1.15"/>
<circle cx="190.2" cy="420.4" r="2.9" fill="#d2d44e" stroke="#8c8c1c" stroke-width="1.15"/>
<circle cx="172.2" cy="426.0" r="2.9" fill="#aecb48" stroke="#70881a" stroke-width="1.15"/>
<circle cx="117.4" cy="423.8" r="2.9" fill="#68b480" stroke="#33704a" stroke-width="1.15"/>
<circle cx="114.2" cy="425.4" r="2.9" fill="#aecb48" stroke="#70881a" stroke-width="1.15"/>
<circle cx="97.8" cy="428.2" r="2.9" fill="#aecb48" stroke="#70881a" stroke-width="1.15"/>
<circle cx="142.8" cy="426.2" r="2.9" fill="#d2d44e" stroke="#8c8c1c" stroke-width="1.15"/>
<circle cx="152.2" cy="433.0" r="2.9" fill="#5ea6a0" stroke="#2f6c6a" stroke-width="1.15"/>
<circle cx="193.0" cy="433.0" r="2.9" fill="#3060f0" stroke="#1a3cb8" stroke-width="1.15"/>
<circle cx="250.6" cy="420.4" r="2.9" fill="#d2d44e" stroke="#8c8c1c" stroke-width="1.15"/>
<circle cx="267.8" cy="420.6" r="2.9" fill="#68b480" stroke="#33704a" stroke-width="1.15"/>
<circle cx="272.6" cy="420.8" r="2.9" fill="#d2d44e" stroke="#8c8c1c" stroke-width="1.15"/>
<circle cx="250.8" cy="432.0" r="2.9" fill="#aecb48" stroke="#70881a" stroke-width="1.15"/>
<circle cx="267.2" cy="429.4" r="2.9" fill="#80c44c" stroke="#42801c" stroke-width="1.15"/>
<circle cx="163.2" cy="439.8" r="2.9" fill="#aecb48" stroke="#70881a" stroke-width="1.15"/>
<circle cx="148.0" cy="446.4" r="2.9" fill="#aecb48" stroke="#70881a" stroke-width="1.15"/>
<circle cx="179.4" cy="443.6" r="2.9" fill="#aecb48" stroke="#70881a" stroke-width="1.15"/>
<circle cx="179.8" cy="444.8" r="2.9" fill="#aecb48" stroke="#70881a" stroke-width="1.15"/>
<circle cx="187.2" cy="446.0" r="2.9" fill="#f0d650" stroke="#a8901c" stroke-width="1.15"/>
<circle cx="204.4" cy="443.2" r="2.9" fill="#aecb48" stroke="#70881a" stroke-width="1.15"/>
<circle cx="222.4" cy="442.8" r="2.9" fill="#d2d44e" stroke="#8c8c1c" stroke-width="1.15"/>
<circle cx="210.8" cy="450.0" r="2.9" fill="#68b480" stroke="#33704a" stroke-width="1.15"/>
<circle cx="206.2" cy="453.6" r="2.9" fill="#68b480" stroke="#33704a" stroke-width="1.15"/>
<circle cx="253.0" cy="451.0" r="2.9" fill="#80c44c" stroke="#42801c" stroke-width="1.15"/>
<circle cx="108.4" cy="457.0" r="2.9" fill="#aecb48" stroke="#70881a" stroke-width="1.15"/>
<circle cx="104.2" cy="467.4" r="2.9" fill="#aecb48" stroke="#70881a" stroke-width="1.15"/>
<circle cx="82.8" cy="467.4" r="2.9" fill="#aecb48" stroke="#70881a" stroke-width="1.15"/>
<circle cx="131.4" cy="467.4" r="2.9" fill="#68b480" stroke="#33704a" stroke-width="1.15"/>
<circle cx="266.8" cy="461.4" r="2.9" fill="#68b480" stroke="#33704a" stroke-width="1.15"/>
<circle cx="235.0" cy="465.2" r="2.9" fill="#f0d650" stroke="#a8901c" stroke-width="1.15"/>
<circle cx="233.8" cy="469.4" r="2.9" fill="#d2d44e" stroke="#8c8c1c" stroke-width="1.15"/>
<circle cx="249.8" cy="474.4" r="2.9" fill="#68b480" stroke="#33704a" stroke-width="1.15"/>
<circle cx="226.2" cy="475.2" r="2.9" fill="#f0d650" stroke="#a8901c" stroke-width="1.15"/>
<circle cx="296.8" cy="437.8" r="2.9" fill="#f0d650" stroke="#a8901c" stroke-width="1.15"/>
<circle cx="353.2" cy="453.0" r="2.9" fill="#68b480" stroke="#33704a" stroke-width="1.15"/>
<circle cx="473.0" cy="437.0" r="2.9" fill="#5ea6a0" stroke="#2f6c6a" stroke-width="1.15"/>
<circle cx="471.6" cy="468.2" r="2.9" fill="#68b480" stroke="#33704a" stroke-width="1.15"/>
<circle cx="478.2" cy="470.4" r="2.9" fill="#68b480" stroke="#33704a" stroke-width="1.15"/>
<circle cx="426.2" cy="477.0" r="2.9" fill="#80c44c" stroke="#42801c" stroke-width="1.15"/>
<circle cx="452.4" cy="477.0" r="2.9" fill="#5ea6a0" stroke="#2f6c6a" stroke-width="1.15"/>
<circle cx="494.0" cy="407.2" r="2.9" fill="#d2d44e" stroke="#8c8c1c" stroke-width="1.15"/>
<circle cx="485.0" cy="438.6" r="2.9" fill="#68b480" stroke="#33704a" stroke-width="1.15"/>
<circle cx="604.4" cy="451.0" r="2.9" fill="#aecb48" stroke="#70881a" stroke-width="1.15"/>
<circle cx="852.4" cy="402.2" r="2.9" fill="#aecb48" stroke="#70881a" stroke-width="1.15"/>
<circle cx="747.4" cy="412.2" r="2.9" fill="#68b480" stroke="#33704a" stroke-width="1.15"/>
<circle cx="770.0" cy="426.0" r="2.9" fill="#f0d650" stroke="#a8901c" stroke-width="1.15"/>
<circle cx="760.4" cy="442.2" r="2.9" fill="#fbae44" stroke="#b87a18" stroke-width="1.15"/>
<circle cx="803.8" cy="465.6" r="2.9" fill="#d2d44e" stroke="#8c8c1c" stroke-width="1.15"/>
<circle cx="901.0" cy="379.4" r="2.9" fill="#68b480" stroke="#33704a" stroke-width="1.15"/>
<circle cx="937.4" cy="399.4" r="2.9" fill="#80c44c" stroke="#42801c" stroke-width="1.15"/>
<circle cx="934.6" cy="405.6" r="2.9" fill="#3f84c4" stroke="#255a90" stroke-width="1.15"/>
<circle cx="937.4" cy="455.2" r="2.9" fill="#d2d44e" stroke="#8c8c1c" stroke-width="1.15"/>
<circle cx="899.8" cy="462.6" r="2.9" fill="#aecb48" stroke="#70881a" stroke-width="1.15"/>
<circle cx="88.6" cy="481.2" r="2.9" fill="#d2d44e" stroke="#8c8c1c" stroke-width="1.15"/>
<circle cx="95.4" cy="482.8" r="2.9" fill="#f0d650" stroke="#a8901c" stroke-width="1.15"/>
<circle cx="93.0" cy="487.4" r="2.9" fill="#5ea6a0" stroke="#2f6c6a" stroke-width="1.15"/>
<circle cx="113.2" cy="488.8" r="2.9" fill="#f0d650" stroke="#a8901c" stroke-width="1.15"/>
<circle cx="117.2" cy="494.6" r="2.9" fill="#f0d650" stroke="#a8901c" stroke-width="1.15"/>
<circle cx="121.4" cy="490.8" r="2.9" fill="#aecb48" stroke="#70881a" stroke-width="1.15"/>
<circle cx="125.2" cy="484.4" r="2.9" fill="#aecb48" stroke="#70881a" stroke-width="1.15"/>
<circle cx="128.4" cy="486.0" r="2.9" fill="#aecb48" stroke="#70881a" stroke-width="1.15"/>
<circle cx="142.4" cy="487.4" r="2.9" fill="#d2d44e" stroke="#8c8c1c" stroke-width="1.15"/>
<circle cx="148.2" cy="487.4" r="2.9" fill="#d2d44e" stroke="#8c8c1c" stroke-width="1.15"/>
<circle cx="141.4" cy="490.6" r="2.9" fill="#d2d44e" stroke="#8c8c1c" stroke-width="1.15"/>
<circle cx="149.2" cy="491.2" r="2.9" fill="#68b480" stroke="#33704a" stroke-width="1.15"/>
<circle cx="146.8" cy="497.8" r="2.9" fill="#aecb48" stroke="#70881a" stroke-width="1.15"/>
<circle cx="152.6" cy="500.8" r="2.9" fill="#aecb48" stroke="#70881a" stroke-width="1.15"/>
<circle cx="165.4" cy="503.6" r="2.9" fill="#80c44c" stroke="#42801c" stroke-width="1.15"/>
<circle cx="173.2" cy="493.8" r="2.9" fill="#fbae44" stroke="#b87a18" stroke-width="1.15"/>
<circle cx="177.6" cy="482.6" r="2.9" fill="#68b480" stroke="#33704a" stroke-width="1.15"/>
<circle cx="143.0" cy="511.4" r="2.9" fill="#68b480" stroke="#33704a" stroke-width="1.15"/>
<circle cx="125.8" cy="513.0" r="2.9" fill="#aecb48" stroke="#70881a" stroke-width="1.15"/>
<circle cx="85.6" cy="514.2" r="2.9" fill="#d2d44e" stroke="#8c8c1c" stroke-width="1.15"/>
<circle cx="88.4" cy="522.4" r="2.9" fill="#d2d44e" stroke="#8c8c1c" stroke-width="1.15"/>
<circle cx="84.0" cy="531.8" r="2.9" fill="#f0d650" stroke="#a8901c" stroke-width="1.15"/>
<circle cx="87.6" cy="533.0" r="2.9" fill="#aecb48" stroke="#70881a" stroke-width="1.15"/>
<circle cx="96.2" cy="536.6" r="2.9" fill="#68b480" stroke="#33704a" stroke-width="1.15"/>
<circle cx="97.0" cy="540.8" r="2.9" fill="#80c44c" stroke="#42801c" stroke-width="1.15"/>
<circle cx="99.0" cy="544.8" r="2.9" fill="#aecb48" stroke="#70881a" stroke-width="1.15"/>
<circle cx="94.6" cy="548.2" r="2.9" fill="#f0d650" stroke="#a8901c" stroke-width="1.15"/>
<circle cx="89.6" cy="550.2" r="2.9" fill="#aecb48" stroke="#70881a" stroke-width="1.15"/>
<circle cx="97.2" cy="555.6" r="2.9" fill="#aecb48" stroke="#70881a" stroke-width="1.15"/>
<circle cx="83.6" cy="556.2" r="2.9" fill="#68b480" stroke="#33704a" stroke-width="1.15"/>
<circle cx="121.0" cy="545.6" r="2.9" fill="#aecb48" stroke="#70881a" stroke-width="1.15"/>
<circle cx="160.2" cy="526.4" r="2.9" fill="#68b480" stroke="#33704a" stroke-width="1.15"/>
<circle cx="149.8" cy="536.0" r="2.9" fill="#f0d650" stroke="#a8901c" stroke-width="1.15"/>
<circle cx="164.0" cy="545.4" r="2.9" fill="#d2d44e" stroke="#8c8c1c" stroke-width="1.15"/>
<circle cx="161.0" cy="553.4" r="2.9" fill="#d2d44e" stroke="#8c8c1c" stroke-width="1.15"/>
<circle cx="180.2" cy="540.8" r="2.9" fill="#68b480" stroke="#33704a" stroke-width="1.15"/>
<circle cx="184.4" cy="511.6" r="2.9" fill="#80c44c" stroke="#42801c" stroke-width="1.15"/>
<circle cx="206.0" cy="509.0" r="2.9" fill="#68b480" stroke="#33704a" stroke-width="1.15"/>
<circle cx="212.4" cy="528.2" r="2.9" fill="#f0d650" stroke="#a8901c" stroke-width="1.15"/>
<circle cx="205.2" cy="544.0" r="2.9" fill="#68b480" stroke="#33704a" stroke-width="1.15"/>
<circle cx="227.4" cy="489.6" r="2.9" fill="#3060f0" stroke="#1a3cb8" stroke-width="1.15"/>
<circle cx="227.8" cy="493.2" r="2.9" fill="#fbae44" stroke="#b87a18" stroke-width="1.15"/>
<circle cx="231.4" cy="484.0" r="2.9" fill="#aecb48" stroke="#70881a" stroke-width="1.15"/>
<circle cx="253.4" cy="481.0" r="2.9" fill="#aecb48" stroke="#70881a" stroke-width="1.15"/>
<circle cx="242.0" cy="496.6" r="2.9" fill="#d2d44e" stroke="#8c8c1c" stroke-width="1.15"/>
<circle cx="251.4" cy="502.6" r="2.9" fill="#80c44c" stroke="#42801c" stroke-width="1.15"/>
<circle cx="246.4" cy="529.6" r="2.9" fill="#d2d44e" stroke="#8c8c1c" stroke-width="1.15"/>
<circle cx="271.6" cy="517.2" r="2.9" fill="#fbae44" stroke="#b87a18" stroke-width="1.15"/>
<circle cx="272.2" cy="531.8" r="2.9" fill="#aecb48" stroke="#70881a" stroke-width="1.15"/>
<circle cx="259.8" cy="544.2" r="2.9" fill="#68b480" stroke="#33704a" stroke-width="1.15"/>
<circle cx="120.8" cy="559.4" r="2.9" fill="#aecb48" stroke="#70881a" stroke-width="1.15"/>
<circle cx="125.4" cy="562.0" r="2.9" fill="#80c44c" stroke="#42801c" stroke-width="1.15"/>
<circle cx="123.6" cy="566.2" r="2.9" fill="#68b480" stroke="#33704a" stroke-width="1.15"/>
<circle cx="107.4" cy="564.6" r="2.9" fill="#aecb48" stroke="#70881a" stroke-width="1.15"/>
<circle cx="109.2" cy="565.2" r="2.9" fill="#d2d44e" stroke="#8c8c1c" stroke-width="1.15"/>
<circle cx="84.0" cy="566.8" r="2.9" fill="#aecb48" stroke="#70881a" stroke-width="1.15"/>
<circle cx="229.6" cy="570.8" r="2.9" fill="#d2d44e" stroke="#8c8c1c" stroke-width="1.15"/>
<circle cx="83.4" cy="570.0" r="2.9" fill="#80c44c" stroke="#42801c" stroke-width="1.15"/>
<circle cx="177.4" cy="571.4" r="2.9" fill="#80c44c" stroke="#42801c" stroke-width="1.15"/>
<circle cx="260.2" cy="571.6" r="2.9" fill="#aecb48" stroke="#70881a" stroke-width="1.15"/>
<circle cx="93.4" cy="574.0" r="2.9" fill="#68b480" stroke="#33704a" stroke-width="1.15"/>
<circle cx="106.0" cy="574.0" r="2.9" fill="#aecb48" stroke="#70881a" stroke-width="1.15"/>
<circle cx="112.6" cy="574.0" r="2.9" fill="#5ea6a0" stroke="#2f6c6a" stroke-width="1.15"/>
<circle cx="117.6" cy="574.0" r="2.9" fill="#68b480" stroke="#33704a" stroke-width="1.15"/>
<circle cx="146.4" cy="574.0" r="2.9" fill="#d2d44e" stroke="#8c8c1c" stroke-width="1.15"/>
<circle cx="184.2" cy="574.0" r="2.9" fill="#80c44c" stroke="#42801c" stroke-width="1.15"/>
<circle cx="189.2" cy="574.0" r="2.9" fill="#68b480" stroke="#33704a" stroke-width="1.15"/>
<circle cx="312.2" cy="492.6" r="2.9" fill="#fbae44" stroke="#b87a18" stroke-width="1.15"/>
<circle cx="334.4" cy="494.0" r="2.9" fill="#5ea6a0" stroke="#2f6c6a" stroke-width="1.15"/>
<circle cx="364.8" cy="502.6" r="2.9" fill="#68b480" stroke="#33704a" stroke-width="1.15"/>
<circle cx="376.4" cy="500.6" r="2.9" fill="#aecb48" stroke="#70881a" stroke-width="1.15"/>
<circle cx="326.2" cy="513.2" r="2.9" fill="#aecb48" stroke="#70881a" stroke-width="1.15"/>
<circle cx="346.4" cy="516.6" r="2.9" fill="#5ea6a0" stroke="#2f6c6a" stroke-width="1.15"/>
<circle cx="357.6" cy="536.2" r="2.9" fill="#5ea6a0" stroke="#2f6c6a" stroke-width="1.15"/>
<circle cx="324.4" cy="546.4" r="2.9" fill="#80c44c" stroke="#42801c" stroke-width="1.15"/>
<circle cx="327.0" cy="552.6" r="2.9" fill="#68b480" stroke="#33704a" stroke-width="1.15"/>
<circle cx="305.2" cy="556.2" r="2.9" fill="#aecb48" stroke="#70881a" stroke-width="1.15"/>
<circle cx="357.0" cy="553.8" r="2.9" fill="#d2d44e" stroke="#8c8c1c" stroke-width="1.15"/>
<circle cx="361.6" cy="558.8" r="2.9" fill="#3f84c4" stroke="#255a90" stroke-width="1.15"/>
<circle cx="418.6" cy="568.4" r="2.9" fill="#68b480" stroke="#33704a" stroke-width="1.15"/>
<circle cx="430.4" cy="517.8" r="2.9" fill="#aecb48" stroke="#70881a" stroke-width="1.15"/>
<circle cx="426.6" cy="517.8" r="2.9" fill="#f0d650" stroke="#a8901c" stroke-width="1.15"/>
<circle cx="378.2" cy="572.2" r="2.9" fill="#aecb48" stroke="#70881a" stroke-width="1.15"/>
<circle cx="508.6" cy="559.4" r="2.9" fill="#5ea6a0" stroke="#2f6c6a" stroke-width="1.15"/>
<circle cx="597.4" cy="546.2" r="2.9" fill="#fbae44" stroke="#b87a18" stroke-width="1.15"/>
<circle cx="617.2" cy="572.2" r="2.9" fill="#5ea6a0" stroke="#2f6c6a" stroke-width="1.15"/>
<circle cx="721.2" cy="493.0" r="2.9" fill="#aecb48" stroke="#70881a" stroke-width="1.15"/>
<circle cx="694.4" cy="515.4" r="2.9" fill="#aecb48" stroke="#70881a" stroke-width="1.15"/>
<circle cx="756.4" cy="557.2" r="2.9" fill="#aecb48" stroke="#70881a" stroke-width="1.15"/>
<circle cx="857.4" cy="536.0" r="2.9" fill="#3060f0" stroke="#1a3cb8" stroke-width="1.15"/>
<circle cx="856.6" cy="542.4" r="2.9" fill="#80c44c" stroke="#42801c" stroke-width="1.15"/>
<circle cx="852.0" cy="546.6" r="2.9" fill="#f0d650" stroke="#a8901c" stroke-width="1.15"/>
<circle cx="838.0" cy="547.6" r="2.9" fill="#f0d650" stroke="#a8901c" stroke-width="1.15"/>
<circle cx="757.4" cy="574.0" r="2.9" fill="#aecb48" stroke="#70881a" stroke-width="1.15"/>
<circle cx="786.2" cy="574.0" r="2.9" fill="#68b480" stroke="#33704a" stroke-width="1.15"/>
<circle cx="902.2" cy="481.2" r="2.9" fill="#aecb48" stroke="#70881a" stroke-width="1.15"/>
<circle cx="899.4" cy="487.8" r="2.9" fill="#d2d44e" stroke="#8c8c1c" stroke-width="1.15"/>
<circle cx="922.0" cy="499.4" r="2.9" fill="#f0d650" stroke="#a8901c" stroke-width="1.15"/>
<circle cx="940.8" cy="497.4" r="2.9" fill="#d2d44e" stroke="#8c8c1c" stroke-width="1.15"/>
<circle cx="886.4" cy="538.2" r="2.9" fill="#5ea6a0" stroke="#2f6c6a" stroke-width="1.15"/>
<circle cx="909.6" cy="532.0" r="2.9" fill="#80c44c" stroke="#42801c" stroke-width="1.15"/>
<circle cx="914.4" cy="536.2" r="2.9" fill="#aecb48" stroke="#70881a" stroke-width="1.15"/>
<circle cx="905.2" cy="540.8" r="2.9" fill="#f0d650" stroke="#a8901c" stroke-width="1.15"/>
<circle cx="914.4" cy="548.6" r="2.9" fill="#80c44c" stroke="#42801c" stroke-width="1.15"/>
<circle cx="957.2" cy="536.0" r="2.9" fill="#fbae44" stroke="#b87a18" stroke-width="1.15"/>
<circle cx="955.8" cy="534.0" r="2.9" fill="#aecb48" stroke="#70881a" stroke-width="1.15"/>
<circle cx="950.0" cy="540.4" r="2.9" fill="#f0d650" stroke="#a8901c" stroke-width="1.15"/>
<circle cx="918.0" cy="574.0" r="2.9" fill="#68b480" stroke="#33704a" stroke-width="1.15"/>
<circle cx="927.6" cy="574.0" r="2.9" fill="#80c44c" stroke="#42801c" stroke-width="1.15"/>
<circle cx="938.6" cy="574.0" r="2.9" fill="#68b480" stroke="#33704a" stroke-width="1.15"/>
<circle cx="84.0" cy="41.0" r="2.9" fill="#80c44c" stroke="#42801c" stroke-width="1.15"/>
<circle cx="88.0" cy="41.0" r="2.9" fill="#aecb48" stroke="#70881a" stroke-width="1.15"/>
<circle cx="92.4" cy="41.0" r="2.9" fill="#3060f0" stroke="#1a3cb8" stroke-width="1.15"/>
<circle cx="97.0" cy="41.0" r="2.9" fill="#68b480" stroke="#33704a" stroke-width="1.15"/>
<circle cx="105.0" cy="41.0" r="2.9" fill="#aecb48" stroke="#70881a" stroke-width="1.15"/>
<circle cx="112.0" cy="41.0" r="2.9" fill="#80c44c" stroke="#42801c" stroke-width="1.15"/>
<circle cx="116.6" cy="41.0" r="2.9" fill="#80c44c" stroke="#42801c" stroke-width="1.15"/>
<circle cx="121.0" cy="41.0" r="2.9" fill="#fbae44" stroke="#b87a18" stroke-width="1.15"/>
<circle cx="126.6" cy="41.0" r="2.9" fill="#3060f0" stroke="#1a3cb8" stroke-width="1.15"/>
<circle cx="138.0" cy="41.0" r="2.9" fill="#5ea6a0" stroke="#2f6c6a" stroke-width="1.15"/>
<circle cx="143.6" cy="41.0" r="2.9" fill="#f0d650" stroke="#a8901c" stroke-width="1.15"/>
<circle cx="157.6" cy="41.0" r="2.9" fill="#aecb48" stroke="#70881a" stroke-width="1.15"/>
<circle cx="162.0" cy="41.0" r="2.9" fill="#80c44c" stroke="#42801c" stroke-width="1.15"/>
<circle cx="165.6" cy="41.0" r="2.9" fill="#80c44c" stroke="#42801c" stroke-width="1.15"/>
<circle cx="172.4" cy="41.0" r="2.9" fill="#fbae44" stroke="#b87a18" stroke-width="1.15"/>
<circle cx="182.0" cy="41.0" r="2.9" fill="#aecb48" stroke="#70881a" stroke-width="1.15"/>
<circle cx="187.4" cy="41.0" r="2.9" fill="#aecb48" stroke="#70881a" stroke-width="1.15"/>
<circle cx="196.6" cy="41.0" r="2.9" fill="#aecb48" stroke="#70881a" stroke-width="1.15"/>
<circle cx="203.0" cy="41.0" r="2.9" fill="#aecb48" stroke="#70881a" stroke-width="1.15"/>
<circle cx="212.0" cy="41.0" r="2.9" fill="#80c44c" stroke="#42801c" stroke-width="1.15"/>
<circle cx="213.6" cy="41.0" r="2.9" fill="#3f84c4" stroke="#255a90" stroke-width="1.15"/>
<circle cx="218.0" cy="41.0" r="2.9" fill="#3f84c4" stroke="#255a90" stroke-width="1.15"/>
<circle cx="233.4" cy="41.0" r="2.9" fill="#aecb48" stroke="#70881a" stroke-width="1.15"/>
<circle cx="255.4" cy="41.0" r="2.9" fill="#aecb48" stroke="#70881a" stroke-width="1.15"/>
<circle cx="258.4" cy="41.0" r="2.9" fill="#f0d650" stroke="#a8901c" stroke-width="1.15"/>
<circle cx="279.6" cy="41.0" r="2.9" fill="#fbae44" stroke="#b87a18" stroke-width="1.15"/>
<circle cx="287.6" cy="41.0" r="2.9" fill="#aecb48" stroke="#70881a" stroke-width="1.15"/>
<circle cx="301.4" cy="41.0" r="2.9" fill="#5ea6a0" stroke="#2f6c6a" stroke-width="1.15"/>
<circle cx="322.4" cy="41.0" r="2.9" fill="#fbae44" stroke="#b87a18" stroke-width="1.15"/>
<circle cx="345.4" cy="41.0" r="2.9" fill="#80c44c" stroke="#42801c" stroke-width="1.15"/>
<circle cx="351.6" cy="41.0" r="2.9" fill="#80c44c" stroke="#42801c" stroke-width="1.15"/>
<circle cx="392.6" cy="41.0" r="2.9" fill="#aecb48" stroke="#70881a" stroke-width="1.15"/>
<circle cx="498.0" cy="41.0" r="2.9" fill="#f58424" stroke="#b05a10" stroke-width="1.15"/>
<circle cx="705.4" cy="41.0" r="2.9" fill="#aecb48" stroke="#70881a" stroke-width="1.15"/>
<circle cx="733.0" cy="41.0" r="2.9" fill="#f0d650" stroke="#a8901c" stroke-width="1.15"/>
<circle cx="751.4" cy="41.0" r="2.9" fill="#80c44c" stroke="#42801c" stroke-width="1.15"/>
<circle cx="787.6" cy="41.0" r="2.9" fill="#3f84c4" stroke="#255a90" stroke-width="1.15"/>
<circle cx="798.4" cy="41.0" r="2.9" fill="#68b480" stroke="#33704a" stroke-width="1.15"/>
<circle cx="825.8" cy="41.0" r="2.9" fill="#80c44c" stroke="#42801c" stroke-width="1.15"/>
<circle cx="843.6" cy="41.0" r="2.9" fill="#80c44c" stroke="#42801c" stroke-width="1.15"/>
<circle cx="858.0" cy="41.0" r="2.9" fill="#f0d650" stroke="#a8901c" stroke-width="1.15"/>
<circle cx="866.0" cy="41.0" r="2.9" fill="#80c44c" stroke="#42801c" stroke-width="1.15"/>
<circle cx="869.0" cy="41.0" r="2.9" fill="#f0d650" stroke="#a8901c" stroke-width="1.15"/>
<circle cx="874.4" cy="41.0" r="2.9" fill="#aecb48" stroke="#70881a" stroke-width="1.15"/>
<circle cx="887.6" cy="41.0" r="2.9" fill="#5ea6a0" stroke="#2f6c6a" stroke-width="1.15"/>
<circle cx="908.0" cy="41.0" r="2.9" fill="#80c44c" stroke="#42801c" stroke-width="1.15"/>
<circle cx="918.0" cy="41.0" r="2.9" fill="#3f84c4" stroke="#255a90" stroke-width="1.15"/>
<circle cx="930.4" cy="41.0" r="2.9" fill="#f0d650" stroke="#a8901c" stroke-width="1.15"/>
<circle cx="106.6" cy="291.2" r="6" fill="rgba(0,0,0,0.588)" stroke="rgba(0,0,0,0.588)" stroke-width="1"/>
<circle cx="155.8" cy="274.6" r="6" fill="rgba(0,0,0,0.588)" stroke="rgba(0,0,0,0.588)" stroke-width="1"/>
<circle cx="204.9" cy="252.2" r="6" fill="rgba(0,0,0,0.588)" stroke="rgba(0,0,0,0.588)" stroke-width="1"/>
<circle cx="254.1" cy="338.8" r="6" fill="rgba(0,0,0,0.588)" stroke="rgba(0,0,0,0.588)" stroke-width="1"/>
<circle cx="303.2" cy="294.6" r="6" fill="rgba(0,0,0,0.588)" stroke="rgba(0,0,0,0.588)" stroke-width="1"/>
<circle cx="352.4" cy="335.0" r="6" fill="rgba(0,0,0,0.588)" stroke="rgba(0,0,0,0.588)" stroke-width="1"/>
<circle cx="401.6" cy="323.4" r="6" fill="rgba(0,0,0,0.588)" stroke="rgba(0,0,0,0.588)" stroke-width="1"/>
<circle cx="450.8" cy="447.2" r="6" fill="rgba(0,0,0,0.588)" stroke="rgba(0,0,0,0.588)" stroke-width="1"/>
<circle cx="499.9" cy="304.0" r="6" fill="rgba(0,0,0,0.588)" stroke="rgba(0,0,0,0.588)" stroke-width="1"/>
<circle cx="549.1" cy="343.6" r="6" fill="rgba(0,0,0,0.588)" stroke="rgba(0,0,0,0.588)" stroke-width="1"/>
<circle cx="598.2" cy="407.6" r="6" fill="rgba(0,0,0,0.588)" stroke="rgba(0,0,0,0.588)" stroke-width="1"/>
<circle cx="647.4" cy="43.0" r="6" fill="rgba(0,0,0,0.588)" stroke="rgba(0,0,0,0.588)" stroke-width="1"/>
<circle cx="696.6" cy="333.6" r="6" fill="rgba(0,0,0,0.588)" stroke="rgba(0,0,0,0.588)" stroke-width="1"/>
<circle cx="745.8" cy="392.8" r="6" fill="rgba(0,0,0,0.588)" stroke="rgba(0,0,0,0.588)" stroke-width="1"/>
<circle cx="794.9" cy="226.6" r="6" fill="rgba(0,0,0,0.588)" stroke="rgba(0,0,0,0.588)" stroke-width="1"/>
<circle cx="844.1" cy="309.4" r="6" fill="rgba(0,0,0,0.588)" stroke="rgba(0,0,0,0.588)" stroke-width="1"/>
<circle cx="893.2" cy="312.4" r="6" fill="rgba(0,0,0,0.588)" stroke="rgba(0,0,0,0.588)" stroke-width="1"/>
<circle cx="942.4" cy="364.4" r="6" fill="rgba(0,0,0,0.588)" stroke="rgba(0,0,0,0.588)" stroke-width="1"/>
<rect x="100.6" y="301.2" width="12" height="12" fill="rgba(0,0,148,0.588)" stroke="rgba(0,0,148,0.588)" stroke-width="1"/>
<rect x="149.8" y="315.8" width="12" height="12" fill="rgba(0,0,148,0.588)" stroke="rgba(0,0,148,0.588)" stroke-width="1"/>
<rect x="198.9" y="234.4" width="12" height="12" fill="rgba(0,0,148,0.588)" stroke="rgba(0,0,148,0.588)" stroke-width="1"/>
<rect x="248.1" y="376.4" width="12" height="12" fill="rgba(0,0,148,0.588)" stroke="rgba(0,0,148,0.588)" stroke-width="1"/>
<rect x="297.2" y="269.2" width="12" height="12" fill="rgba(0,0,148,0.588)" stroke="rgba(0,0,148,0.588)" stroke-width="1"/>
<rect x="346.4" y="333.0" width="12" height="12" fill="rgba(0,0,148,0.588)" stroke="rgba(0,0,148,0.588)" stroke-width="1"/>
<rect x="395.6" y="351.4" width="12" height="12" fill="rgba(0,0,148,0.588)" stroke="rgba(0,0,148,0.588)" stroke-width="1"/>
<rect x="444.8" y="471.0" width="12" height="12" fill="rgba(0,0,148,0.588)" stroke="rgba(0,0,148,0.588)" stroke-width="1"/>
<rect x="493.9" y="401.2" width="12" height="12" fill="rgba(0,0,148,0.588)" stroke="rgba(0,0,148,0.588)" stroke-width="1"/>
<rect x="543.1" y="350.2" width="12" height="12" fill="rgba(0,0,148,0.588)" stroke="rgba(0,0,148,0.588)" stroke-width="1"/>
<rect x="592.2" y="492.6" width="12" height="12" fill="rgba(0,0,148,0.588)" stroke="rgba(0,0,148,0.588)" stroke-width="1"/>
<rect x="641.4" y="37.4" width="12" height="12" fill="rgba(0,0,148,0.588)" stroke="rgba(0,0,148,0.588)" stroke-width="1"/>
<rect x="690.6" y="339.4" width="12" height="12" fill="rgba(0,0,148,0.588)" stroke="rgba(0,0,148,0.588)" stroke-width="1"/>
<rect x="739.8" y="428.2" width="12" height="12" fill="rgba(0,0,148,0.588)" stroke="rgba(0,0,148,0.588)" stroke-width="1"/>
<rect x="788.9" y="56.8" width="12" height="12" fill="rgba(0,0,148,0.588)" stroke="rgba(0,0,148,0.588)" stroke-width="1"/>
<rect x="838.1" y="305.4" width="12" height="12" fill="rgba(0,0,148,0.588)" stroke="rgba(0,0,148,0.588)" stroke-width="1"/>
<rect x="887.2" y="330.2" width="12" height="12" fill="rgba(0,0,148,0.588)" stroke="rgba(0,0,148,0.588)" stroke-width="1"/>
<rect x="936.4" y="424.4" width="12" height="12" fill="rgba(0,0,148,0.588)" stroke="rgba(0,0,148,0.588)" stroke-width="1"/>
<path d="M106.6 62.4L112.6 74.4L100.6 74.4Z" fill="rgba(161,0,0,0.588)" stroke="rgba(161,0,0,0.588)" stroke-width="1" stroke-linejoin="miter"/>
<path d="M155.8 50.4L161.8 62.4L149.8 62.4Z" fill="rgba(161,0,0,0.588)" stroke="rgba(161,0,0,0.588)" stroke-width="1" stroke-linejoin="miter"/>
<path d="M204.9 57.0L210.9 69.0L198.9 69.0Z" fill="rgba(161,0,0,0.588)" stroke="rgba(161,0,0,0.588)" stroke-width="1" stroke-linejoin="miter"/>
<path d="M254.1 63.0L260.1 75.0L248.1 75.0Z" fill="rgba(161,0,0,0.588)" stroke="rgba(161,0,0,0.588)" stroke-width="1" stroke-linejoin="miter"/>
<path d="M303.2 107.5L309.2 119.5L297.2 119.5Z" fill="rgba(161,0,0,0.588)" stroke="rgba(161,0,0,0.588)" stroke-width="1" stroke-linejoin="miter"/>
<path d="M352.4 61.0L358.4 73.0L346.4 73.0Z" fill="rgba(161,0,0,0.588)" stroke="rgba(161,0,0,0.588)" stroke-width="1" stroke-linejoin="miter"/>
<path d="M401.6 117.6L407.6 129.6L395.6 129.6Z" fill="rgba(161,0,0,0.588)" stroke="rgba(161,0,0,0.588)" stroke-width="1" stroke-linejoin="miter"/>
<path d="M450.8 35.0L456.8 47.0L444.8 47.0Z" fill="rgba(161,0,0,0.588)" stroke="rgba(161,0,0,0.588)" stroke-width="1" stroke-linejoin="miter"/>
<path d="M499.9 35.0L505.9 47.0L493.9 47.0Z" fill="rgba(161,0,0,0.588)" stroke="rgba(161,0,0,0.588)" stroke-width="1" stroke-linejoin="miter"/>
<path d="M549.1 213.0L555.1 225.0L543.1 225.0Z" fill="rgba(161,0,0,0.588)" stroke="rgba(161,0,0,0.588)" stroke-width="1" stroke-linejoin="miter"/>
<path d="M598.2 35.0L604.2 47.0L592.2 47.0Z" fill="rgba(161,0,0,0.588)" stroke="rgba(161,0,0,0.588)" stroke-width="1" stroke-linejoin="miter"/>
<path d="M647.4 35.0L653.4 47.0L641.4 47.0Z" fill="rgba(161,0,0,0.588)" stroke="rgba(161,0,0,0.588)" stroke-width="1" stroke-linejoin="miter"/>
<path d="M696.6 213.0L702.6 225.0L690.6 225.0Z" fill="rgba(161,0,0,0.588)" stroke="rgba(161,0,0,0.588)" stroke-width="1" stroke-linejoin="miter"/>
<path d="M745.8 124.4L751.8 136.4L739.8 136.4Z" fill="rgba(161,0,0,0.588)" stroke="rgba(161,0,0,0.588)" stroke-width="1" stroke-linejoin="miter"/>
<path d="M794.9 35.0L800.9 47.0L788.9 47.0Z" fill="rgba(161,0,0,0.588)" stroke="rgba(161,0,0,0.588)" stroke-width="1" stroke-linejoin="miter"/>
<path d="M844.1 111.6L850.1 123.6L838.1 123.6Z" fill="rgba(161,0,0,0.588)" stroke="rgba(161,0,0,0.588)" stroke-width="1" stroke-linejoin="miter"/>
<path d="M893.2 80.0L899.2 92.0L887.2 92.0Z" fill="rgba(161,0,0,0.588)" stroke="rgba(161,0,0,0.588)" stroke-width="1" stroke-linejoin="miter"/>
<path d="M942.4 130.6L948.4 142.6L936.4 142.6Z" fill="rgba(161,0,0,0.588)" stroke="rgba(161,0,0,0.588)" stroke-width="1" stroke-linejoin="miter"/>
<circle cx="106.6" cy="176.4" r="6" fill="rgba(0,155,155,0.588)" stroke="rgba(0,155,155,0.588)" stroke-width="1"/>
<circle cx="155.8" cy="113.0" r="6" fill="rgba(0,155,155,0.588)" stroke="rgba(0,155,155,0.588)" stroke-width="1"/>
<circle cx="204.9" cy="182.6" r="6" fill="rgba(0,155,155,0.588)" stroke="rgba(0,155,155,0.588)" stroke-width="1"/>
<circle cx="254.1" cy="218.2" r="6" fill="rgba(0,155,155,0.588)" stroke="rgba(0,155,155,0.588)" stroke-width="1"/>
<circle cx="303.2" cy="199.4" r="6" fill="rgba(0,155,155,0.588)" stroke="rgba(0,155,155,0.588)" stroke-width="1"/>
<circle cx="352.4" cy="203.8" r="6" fill="rgba(0,155,155,0.588)" stroke="rgba(0,155,155,0.588)" stroke-width="1"/>
<circle cx="401.6" cy="138.4" r="6" fill="rgba(0,155,155,0.588)" stroke="rgba(0,155,155,0.588)" stroke-width="1"/>
<circle cx="450.8" cy="286.0" r="6" fill="rgba(0,155,155,0.588)" stroke="rgba(0,155,155,0.588)" stroke-width="1"/>
<circle cx="499.9" cy="162.6" r="6" fill="rgba(0,155,155,0.588)" stroke="rgba(0,155,155,0.588)" stroke-width="1"/>
<circle cx="549.1" cy="41.0" r="6" fill="rgba(0,155,155,0.588)" stroke="rgba(0,155,155,0.588)" stroke-width="1"/>
<circle cx="598.2" cy="94.0" r="6" fill="rgba(0,155,155,0.588)" stroke="rgba(0,155,155,0.588)" stroke-width="1"/>
<circle cx="647.4" cy="41.0" r="6" fill="rgba(0,155,155,0.588)" stroke="rgba(0,155,155,0.588)" stroke-width="1"/>
<circle cx="696.6" cy="141.4" r="6" fill="rgba(0,155,155,0.588)" stroke="rgba(0,155,155,0.588)" stroke-width="1"/>
<circle cx="745.8" cy="98.0" r="6" fill="rgba(0,155,155,0.588)" stroke="rgba(0,155,155,0.588)" stroke-width="1"/>
<circle cx="794.9" cy="77.4" r="6" fill="rgba(0,155,155,0.588)" stroke="rgba(0,155,155,0.588)" stroke-width="1"/>
<circle cx="844.1" cy="270.0" r="6" fill="rgba(0,155,155,0.588)" stroke="rgba(0,155,155,0.588)" stroke-width="1"/>
<circle cx="893.2" cy="187.4" r="6" fill="rgba(0,155,155,0.588)" stroke="rgba(0,155,155,0.588)" stroke-width="1"/>
<circle cx="942.4" cy="163.6" r="6" fill="rgba(0,155,155,0.588)" stroke="rgba(0,155,155,0.588)" stroke-width="1"/>
</g>
<line x1="82.50" y1="41.00" x2="82.50" y2="575.00" stroke="rgba(120,120,120,0.45)" stroke-width="1"/>
<rect x="82.00" y="605.00" width="885.00" height="320.00" fill="#fff"/>
<line x1="82.00" y1="880.50" x2="967.00" y2="880.50" stroke="#f1f1f1" stroke-width="1"/>
<line x1="82.00" y1="836.50" x2="967.00" y2="836.50" stroke="#f1f1f1" stroke-width="1"/>
<line x1="82.00" y1="791.50" x2="967.00" y2="791.50" stroke="#f1f1f1" stroke-width="1"/>
<line x1="82.00" y1="747.50" x2="967.00" y2="747.50" stroke="#f1f1f1" stroke-width="1"/>
<line x1="82.00" y1="702.50" x2="967.00" y2="702.50" stroke="#f1f1f1" stroke-width="1"/>
<line x1="82.00" y1="658.50" x2="967.00" y2="658.50" stroke="#f1f1f1" stroke-width="1"/>
<line x1="82.00" y1="613.50" x2="967.00" y2="613.50" stroke="#f1f1f1" stroke-width="1"/>
<line x1="180.50" y1="605.00" x2="180.50" y2="925.00" stroke="#f1f1f1" stroke-width="1"/>
<line x1="278.50" y1="605.00" x2="278.50" y2="925.00" stroke="#f1f1f1" stroke-width="1"/>
<line x1="377.50" y1="605.00" x2="377.50" y2="925.00" stroke="#f1f1f1" stroke-width="1"/>
<line x1="475.50" y1="605.00" x2="475.50" y2="925.00" stroke="#f1f1f1" stroke-width="1"/>
<line x1="573.50" y1="605.00" x2="573.50" y2="925.00" stroke="#f1f1f1" stroke-width="1"/>
<line x1="672.50" y1="605.00" x2="672.50" y2="925.00" stroke="#f1f1f1" stroke-width="1"/>
<line x1="770.50" y1="605.00" x2="770.50" y2="925.00" stroke="#f1f1f1" stroke-width="1"/>
<line x1="868.50" y1="605.00" x2="868.50" y2="925.00" stroke="#f1f1f1" stroke-width="1"/>
<rect x="84.46" y="620.24" width="44.25" height="15.57" fill="#808080"/>
<rect x="84.46" y="635.81" width="44.25" height="289.19" fill="#00b000"/>
<rect x="133.63" y="698.10" width="44.25" height="6.67" fill="#808080"/>
<rect x="133.63" y="704.77" width="44.25" height="220.23" fill="#00b000"/>
<rect x="182.79" y="762.61" width="44.25" height="6.67" fill="#808080"/>
<rect x="182.79" y="769.28" width="44.25" height="155.72" fill="#00b000"/>
<rect x="231.96" y="798.20" width="44.25" height="6.67" fill="#808080"/>
<rect x="231.96" y="804.87" width="44.25" height="120.13" fill="#00b000"/>
<rect x="281.12" y="876.06" width="44.25" height="6.67" fill="#808080"/>
<rect x="281.12" y="882.73" width="44.25" height="42.27" fill="#00b000"/>
<rect x="330.29" y="878.28" width="44.25" height="2.22" fill="#808080"/>
<rect x="330.29" y="880.51" width="44.25" height="44.49" fill="#00b000"/>
<rect x="379.46" y="896.08" width="44.25" height="4.45" fill="#808080"/>
<rect x="379.46" y="900.53" width="44.25" height="24.47" fill="#00b000"/>
<rect x="428.62" y="909.43" width="44.25" height="15.57" fill="#00b000"/>
<rect x="477.79" y="909.43" width="44.25" height="15.57" fill="#00b000"/>
<rect x="526.96" y="918.33" width="44.25" height="2.22" fill="#808080"/>
<rect x="526.96" y="920.55" width="44.25" height="4.45" fill="#00b000"/>
<rect x="576.13" y="916.10" width="44.25" height="8.90" fill="#00b000"/>
<rect x="625.29" y="922.78" width="44.25" height="2.22" fill="#00b000"/>
<rect x="674.46" y="911.65" width="44.25" height="4.45" fill="#808080"/>
<rect x="674.46" y="916.10" width="44.25" height="8.90" fill="#00b000"/>
<rect x="723.63" y="898.31" width="44.25" height="4.45" fill="#808080"/>
<rect x="723.63" y="902.75" width="44.25" height="22.25" fill="#00b000"/>
<rect x="772.79" y="909.43" width="44.25" height="15.57" fill="#00b000"/>
<rect x="821.96" y="893.86" width="44.25" height="4.45" fill="#808080"/>
<rect x="821.96" y="898.31" width="44.25" height="26.69" fill="#00b000"/>
<rect x="871.13" y="871.61" width="44.25" height="4.45" fill="#808080"/>
<rect x="871.13" y="876.06" width="44.25" height="48.94" fill="#00b000"/>
<rect x="920.29" y="862.71" width="44.25" height="11.12" fill="#808080"/>
<rect x="920.29" y="873.84" width="44.25" height="51.16" fill="#00b000"/>
<rect x="82.50" y="605.50" width="885.00" height="320.00" fill="none" stroke="#c0c0c0" stroke-width="1"/>
<line x1="82.50" y1="605.00" x2="82.50" y2="926.00" stroke="rgba(120,120,120,0.45)" stroke-width="1"/>
<line x1="82.00" y1="925.50" x2="968.00" y2="925.50" stroke="rgba(120,120,120,0.45)" stroke-width="1"/>
<rect x="760.5" y="613.5" width="184" height="55" fill="#fff" stroke="#000" stroke-width="1"/>
<rect x="764" y="623.2" width="6" height="9.6" fill="#808080"/>
<rect x="764" y="649.1" width="6" height="9.6" fill="#00b000"/>
<rect x="50" y="992" width="901" height="15" fill="url(#cpt)"/>
<rect x="50.5" y="992.5" width="900" height="14" fill="none" stroke="rgba(110,110,110,0.35)" stroke-width="1"/>
<line x1="50" y1="1007.5" x2="951" y2="1007.5" stroke="#a0a0a0" stroke-width="1"/>
<line x1="50.5" y1="1007" x2="50.5" y2="1010" stroke="#a0a0a0" stroke-width="1"/>
<line x1="140.5" y1="1007" x2="140.5" y2="1010" stroke="#a0a0a0" stroke-width="1"/>
<line x1="230.5" y1="1007" x2="230.5" y2="1010" stroke="#a0a0a0" stroke-width="1"/>
<line x1="320.5" y1="1007" x2="320.5" y2="1010" stroke="#a0a0a0" stroke-width="1"/>
<line x1="410.5" y1="1007" x2="410.5" y2="1010" stroke="#a0a0a0" stroke-width="1"/>
<line x1="500.5" y1="1007" x2="500.5" y2="1010" stroke="#a0a0a0" stroke-width="1"/>
<line x1="590.5" y1="1007" x2="590.5" y2="1010" stroke="#a0a0a0" stroke-width="1"/>
<line x1="680.5" y1="1007" x2="680.5" y2="1010" stroke="#a0a0a0" stroke-width="1"/>
<line x1="770.5" y1="1007" x2="770.5" y2="1010" stroke="#a0a0a0" stroke-width="1"/>
<line x1="860.5" y1="1007" x2="860.5" y2="1010" stroke="#a0a0a0" stroke-width="1"/>
<line x1="950.5" y1="1007" x2="950.5" y2="1010" stroke="#a0a0a0" stroke-width="1"/>
<circle cx="108.5" cy="1086.0" r="3.2" fill="#ff90f0"/>
<circle cx="232.4" cy="1086.0" r="3.2" fill="#808080"/>
<circle cx="347.6" cy="1086.0" r="6" fill="rgba(0,0,0,0.588)" stroke="rgba(0,0,0,0.588)" stroke-width="1"/>
<rect x="413.5" y="1080.0" width="12" height="12" fill="rgba(0,0,148,0.588)" stroke="rgba(0,0,148,0.588)" stroke-width="1"/>
<path d="M507.5 1080.0L513.5 1092.0L501.5 1092.0Z" fill="rgba(161,0,0,0.588)" stroke="rgba(161,0,0,0.588)" stroke-width="1"/>
<circle cx="582.4" cy="1086.0" r="6" fill="rgba(0,155,155,0.588)" stroke="rgba(0,155,155,0.588)" stroke-width="1"/>
<text x="294.94" y="23.00" font-size="24.0" font-weight="bold" stroke-width="0.35" textLength="118.34" lengthAdjust="spacingAndGlyphs">|Azimuth</text>
<text x="422.03" y="23.00" font-size="24.0" font-weight="bold" stroke-width="0.35" textLength="108.83" lengthAdjust="spacingAndGlyphs">Change|</text>
<text x="540.43" y="23.00" font-size="24.0" font-weight="bold" stroke-width="0.35" textLength="165.49" lengthAdjust="spacingAndGlyphs">Dependence</text>
<text x="37.48" y="581.00" font-size="18.0" stroke-width="0.55" textLength="37.68" lengthAdjust="spacingAndGlyphs">0.00</text>
<text x="37.07" y="554.00" font-size="18.0" stroke-width="0.55" textLength="37.68" lengthAdjust="spacingAndGlyphs">0.05</text>
<text x="37.48" y="527.00" font-size="18.0" stroke-width="0.55" textLength="37.68" lengthAdjust="spacingAndGlyphs">0.10</text>
<text x="37.07" y="501.00" font-size="18.0" stroke-width="0.55" textLength="37.68" lengthAdjust="spacingAndGlyphs">0.15</text>
<text x="37.48" y="474.00" font-size="18.0" stroke-width="0.55" textLength="37.68" lengthAdjust="spacingAndGlyphs">0.20</text>
<text x="37.07" y="447.00" font-size="18.0" stroke-width="0.55" textLength="37.68" lengthAdjust="spacingAndGlyphs">0.25</text>
<text x="37.48" y="421.00" font-size="18.0" stroke-width="0.55" textLength="37.68" lengthAdjust="spacingAndGlyphs">0.30</text>
<text x="37.07" y="394.00" font-size="18.0" stroke-width="0.55" textLength="37.68" lengthAdjust="spacingAndGlyphs">0.35</text>
<text x="37.48" y="367.00" font-size="18.0" stroke-width="0.55" textLength="37.68" lengthAdjust="spacingAndGlyphs">0.40</text>
<text x="37.07" y="341.00" font-size="18.0" stroke-width="0.55" textLength="37.68" lengthAdjust="spacingAndGlyphs">0.45</text>
<text x="37.48" y="314.00" font-size="18.0" stroke-width="0.55" textLength="37.68" lengthAdjust="spacingAndGlyphs">0.50</text>
<text x="37.07" y="287.00" font-size="18.0" stroke-width="0.55" textLength="37.68" lengthAdjust="spacingAndGlyphs">0.55</text>
<text x="37.48" y="261.00" font-size="18.0" stroke-width="0.55" textLength="37.68" lengthAdjust="spacingAndGlyphs">0.60</text>
<text x="37.07" y="234.00" font-size="18.0" stroke-width="0.55" textLength="37.68" lengthAdjust="spacingAndGlyphs">0.65</text>
<text x="37.48" y="207.00" font-size="18.0" stroke-width="0.55" textLength="37.68" lengthAdjust="spacingAndGlyphs">0.70</text>
<text x="37.07" y="181.00" font-size="18.0" stroke-width="0.55" textLength="37.68" lengthAdjust="spacingAndGlyphs">0.75</text>
<text x="37.48" y="154.00" font-size="18.0" stroke-width="0.55" textLength="37.68" lengthAdjust="spacingAndGlyphs">0.80</text>
<text x="37.07" y="127.00" font-size="18.0" stroke-width="0.55" textLength="37.68" lengthAdjust="spacingAndGlyphs">0.85</text>
<text x="37.48" y="101.00" font-size="18.0" stroke-width="0.55" textLength="37.68" lengthAdjust="spacingAndGlyphs">0.90</text>
<text x="37.07" y="74.00" font-size="18.0" stroke-width="0.55" textLength="37.68" lengthAdjust="spacingAndGlyphs">0.95</text>
<text x="37.48" y="48.00" font-size="18.0" stroke-width="0.55" textLength="37.68" lengthAdjust="spacingAndGlyphs">1.00</text>
<text x="64.45" y="932.00" font-size="18.0" stroke-width="0.55" textLength="10.77" lengthAdjust="spacingAndGlyphs">0</text>
<text x="53.70" y="887.00" font-size="18.0" stroke-width="0.55" textLength="21.53" lengthAdjust="spacingAndGlyphs">20</text>
<text x="53.70" y="843.00" font-size="18.0" stroke-width="0.55" textLength="21.53" lengthAdjust="spacingAndGlyphs">40</text>
<text x="53.70" y="798.00" font-size="18.0" stroke-width="0.55" textLength="21.53" lengthAdjust="spacingAndGlyphs">60</text>
<text x="53.70" y="754.00" font-size="18.0" stroke-width="0.55" textLength="21.53" lengthAdjust="spacingAndGlyphs">80</text>
<text x="42.95" y="709.00" font-size="18.0" stroke-width="0.55" textLength="32.30" lengthAdjust="spacingAndGlyphs">100</text>
<text x="42.95" y="665.00" font-size="18.0" stroke-width="0.55" textLength="32.30" lengthAdjust="spacingAndGlyphs">120</text>
<text x="42.95" y="620.00" font-size="18.0" stroke-width="0.55" textLength="32.30" lengthAdjust="spacingAndGlyphs">140</text>
<text x="77.13" y="948.00" font-size="18.0" stroke-width="0.55" textLength="10.77" lengthAdjust="spacingAndGlyphs">0</text>
<text x="169.97" y="948.00" font-size="18.0" stroke-width="0.55" textLength="21.53" lengthAdjust="spacingAndGlyphs">20</text>
<text x="268.43" y="948.00" font-size="18.0" stroke-width="0.55" textLength="21.53" lengthAdjust="spacingAndGlyphs">40</text>
<text x="366.63" y="948.00" font-size="18.0" stroke-width="0.55" textLength="21.53" lengthAdjust="spacingAndGlyphs">60</text>
<text x="464.98" y="948.00" font-size="18.0" stroke-width="0.55" textLength="21.53" lengthAdjust="spacingAndGlyphs">80</text>
<text x="557.48" y="948.00" font-size="18.0" stroke-width="0.55" textLength="32.30" lengthAdjust="spacingAndGlyphs">100</text>
<text x="655.81" y="948.00" font-size="18.0" stroke-width="0.55" textLength="32.30" lengthAdjust="spacingAndGlyphs">120</text>
<text x="754.15" y="948.00" font-size="18.0" stroke-width="0.55" textLength="32.30" lengthAdjust="spacingAndGlyphs">140</text>
<text x="852.48" y="948.00" font-size="18.0" stroke-width="0.55" textLength="32.30" lengthAdjust="spacingAndGlyphs">160</text>
<text x="950.81" y="948.00" font-size="18.0" stroke-width="0.55" textLength="32.30" lengthAdjust="spacingAndGlyphs">180</text>
<text x="358.97" y="978.00" font-size="24.3" stroke-width="0.35" textLength="105.41" lengthAdjust="spacingAndGlyphs">|Azimuth</text>
<text x="472.41" y="978.00" font-size="24.3" stroke-width="0.35" textLength="97.39" lengthAdjust="spacingAndGlyphs">Change|</text>
<text x="579.32" y="978.00" font-size="24.3" stroke-width="0.35" textLength="111.12" lengthAdjust="spacingAndGlyphs">(degrees)</text>
<text x="26.00" y="502.27" font-size="24.3" stroke-width="0.35" textLength="143.64" lengthAdjust="spacingAndGlyphs" transform="rotate(-90 26.00 502.27)">Passthrough</text>
<text x="26.00" y="348.42" font-size="24.3" stroke-width="0.35" textLength="52.50" lengthAdjust="spacingAndGlyphs" transform="rotate(-90 26.00 348.42)">Rate</text>
<text x="26.00" y="286.80" font-size="24.3" stroke-width="0.35" textLength="52.61" lengthAdjust="spacingAndGlyphs" transform="rotate(-90 26.00 286.80)">(Rel.</text>
<text x="26.00" y="226.18" font-size="24.3" stroke-width="0.35" textLength="43.45" lengthAdjust="spacingAndGlyphs" transform="rotate(-90 26.00 226.18)">Min</text>
<text x="26.00" y="174.26" font-size="24.3" stroke-width="0.35" textLength="62.13" lengthAdjust="spacingAndGlyphs" transform="rotate(-90 26.00 174.26)">Rate)</text>
<text x="32.50" y="855.01" font-size="24.3" stroke-width="0.35" textLength="100.18" lengthAdjust="spacingAndGlyphs" transform="rotate(-90 32.50 855.01)">Marginal</text>
<text x="32.50" y="744.59" font-size="24.3" stroke-width="0.35" textLength="68.96" lengthAdjust="spacingAndGlyphs" transform="rotate(-90 32.50 744.59)">Count</text>
<text x="774.37" y="634.00" font-size="18.4" stroke-width="0.55" textLength="21.33" lengthAdjust="spacingAndGlyphs">All</text>
<text x="802.24" y="634.00" font-size="18.4" stroke-width="0.55" textLength="80.71" lengthAdjust="spacingAndGlyphs">Available</text>
<text x="888.60" y="634.00" font-size="18.4" stroke-width="0.55" textLength="53.18" lengthAdjust="spacingAndGlyphs">Jumps</text>
<text x="774.91" y="660.00" font-size="18.4" stroke-width="0.55" textLength="53.47" lengthAdjust="spacingAndGlyphs">Taken</text>
<text x="834.60" y="660.00" font-size="18.4" stroke-width="0.55" textLength="53.18" lengthAdjust="spacingAndGlyphs">Jumps</text>
<text x="120.21" y="1092.00" font-size="18.4" stroke-width="0.55" textLength="100.13" lengthAdjust="spacingAndGlyphs">Connection</text>
<text x="244.10" y="1092.00" font-size="18.4" stroke-width="0.55" textLength="91.66" lengthAdjust="spacingAndGlyphs">Zero-Rate</text>
<text x="359.89" y="1092.00" font-size="18.4" stroke-width="0.55" textLength="46.86" lengthAdjust="spacingAndGlyphs">Mean</text>
<text x="431.76" y="1092.00" font-size="18.4" stroke-width="0.55" textLength="62.90" lengthAdjust="spacingAndGlyphs">Median</text>
<text x="519.69" y="1092.00" font-size="18.4" stroke-width="0.55" textLength="49.85" lengthAdjust="spacingAndGlyphs">P(&gt;0)</text>
<text x="594.89" y="1092.00" font-size="18.4" stroke-width="0.55" textLength="93.91" lengthAdjust="spacingAndGlyphs">Detrended</text>
<text x="696.22" y="1092.00" font-size="18.4" stroke-width="0.55" textLength="75.37" lengthAdjust="spacingAndGlyphs">(Shaw07</text>
<text x="779.57" y="1092.00" font-size="18.4" stroke-width="0.55" textLength="20.23" lengthAdjust="spacingAndGlyphs">[R</text>
<text x="800.02" y="1092.50" font-size="10.0" stroke-width="0.55" textLength="4.48" lengthAdjust="spacingAndGlyphs">0</text>
<text x="806.74" y="1092.00" font-size="18.4" stroke-width="0.55" textLength="38.16" lengthAdjust="spacingAndGlyphs">=3])</text>
<text x="852.39" y="1092.00" font-size="18.4" stroke-width="0.55" textLength="46.65" lengthAdjust="spacingAndGlyphs">Mean</text>
<text x="41.66" y="1029.00" font-size="18.0" stroke-width="0.55" textLength="17.46" lengthAdjust="spacingAndGlyphs">-6</text>
<text x="123.48" y="1029.00" font-size="18.0" stroke-width="0.55" textLength="33.82" lengthAdjust="spacingAndGlyphs">-5.5</text>
<text x="221.66" y="1029.00" font-size="18.0" stroke-width="0.55" textLength="17.46" lengthAdjust="spacingAndGlyphs">-5</text>
<text x="303.48" y="1029.00" font-size="18.0" stroke-width="0.55" textLength="33.82" lengthAdjust="spacingAndGlyphs">-4.5</text>
<text x="401.69" y="1029.00" font-size="18.0" stroke-width="0.55" textLength="17.46" lengthAdjust="spacingAndGlyphs">-4</text>
<text x="483.48" y="1029.00" font-size="18.0" stroke-width="0.55" textLength="33.82" lengthAdjust="spacingAndGlyphs">-3.5</text>
<text x="581.69" y="1029.00" font-size="18.0" stroke-width="0.55" textLength="17.46" lengthAdjust="spacingAndGlyphs">-3</text>
<text x="663.48" y="1029.00" font-size="18.0" stroke-width="0.55" textLength="33.82" lengthAdjust="spacingAndGlyphs">-2.5</text>
<text x="761.69" y="1029.00" font-size="18.0" stroke-width="0.55" textLength="17.46" lengthAdjust="spacingAndGlyphs">-2</text>
<text x="843.48" y="1029.00" font-size="18.0" stroke-width="0.55" textLength="33.82" lengthAdjust="spacingAndGlyphs">-1.5</text>
<text x="941.68" y="1029.00" font-size="18.0" stroke-width="0.55" textLength="17.46" lengthAdjust="spacingAndGlyphs">-1</text>
<text x="351.21" y="1058.00" font-size="24.3" stroke-width="0.35" textLength="71.94" lengthAdjust="spacingAndGlyphs">Log10</text>
<text x="431.56" y="1058.00" font-size="24.3" stroke-width="0.35" textLength="53.13" lengthAdjust="spacingAndGlyphs">Rate</text>
<text x="493.16" y="1058.00" font-size="24.3" stroke-width="0.35" textLength="156.95" lengthAdjust="spacingAndGlyphs">(Denomiator)</text>
</svg></body></html>
